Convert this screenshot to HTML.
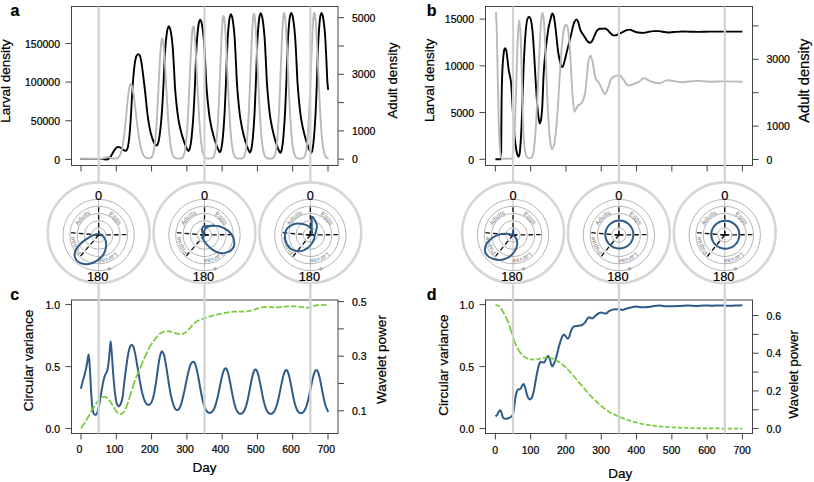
<!DOCTYPE html>
<html><head><meta charset="utf-8"><style>
html,body{margin:0;padding:0;background:#fff;}
svg{display:block;}
text{font-family:"Liberation Sans",sans-serif;}
text.k{stroke:#000;stroke-width:0.22px;}
</style></head><body>
<svg width="814" height="482" viewBox="0 0 814 482" font-family="Liberation Sans, sans-serif">
<rect width="814" height="482" fill="#fff"/>
<line x1="65.5" y1="159.4" x2="71.5" y2="159.4" stroke="#444" stroke-width="1"/>
<line x1="65.5" y1="120.73333333333335" x2="71.5" y2="120.73333333333335" stroke="#444" stroke-width="1"/>
<line x1="65.5" y1="82.06666666666668" x2="71.5" y2="82.06666666666668" stroke="#444" stroke-width="1"/>
<line x1="65.5" y1="43.400000000000006" x2="71.5" y2="43.400000000000006" stroke="#444" stroke-width="1"/>
<text class="k" x="60.0" y="163.6" font-size="10.5" text-anchor="end" font-weight="normal" fill="#000">0</text>
<text class="k" x="60.0" y="124.93333333333335" font-size="10.5" text-anchor="end" font-weight="normal" fill="#000">50000</text>
<text class="k" x="60.0" y="86.26666666666668" font-size="10.5" text-anchor="end" font-weight="normal" fill="#000">100000</text>
<text class="k" x="60.0" y="47.60000000000001" font-size="10.5" text-anchor="end" font-weight="normal" fill="#000">150000</text>
<line x1="338.0" y1="159.2" x2="344.0" y2="159.2" stroke="#444" stroke-width="1"/>
<line x1="338.0" y1="130.89999999999998" x2="344.0" y2="130.89999999999998" stroke="#444" stroke-width="1"/>
<line x1="338.0" y1="102.6" x2="344.0" y2="102.6" stroke="#444" stroke-width="1"/>
<line x1="338.0" y1="74.3" x2="344.0" y2="74.3" stroke="#444" stroke-width="1"/>
<line x1="338.0" y1="46.0" x2="344.0" y2="46.0" stroke="#444" stroke-width="1"/>
<line x1="338.0" y1="17.69999999999999" x2="344.0" y2="17.69999999999999" stroke="#444" stroke-width="1"/>
<text class="k" x="352.0" y="163.2" font-size="10.5" text-anchor="start" font-weight="normal" fill="#000">0</text>
<text class="k" x="352.0" y="134.89999999999998" font-size="10.5" text-anchor="start" font-weight="normal" fill="#000">1000</text>
<text class="k" x="352.0" y="78.3" font-size="10.5" text-anchor="start" font-weight="normal" fill="#000">3000</text>
<text class="k" x="352.0" y="21.69999999999999" font-size="10.5" text-anchor="start" font-weight="normal" fill="#000">5000</text>
<line x1="81.0" y1="165.5" x2="81.0" y2="171.5" stroke="#444" stroke-width="1"/>
<line x1="116.286" y1="165.5" x2="116.286" y2="171.5" stroke="#444" stroke-width="1"/>
<line x1="151.572" y1="165.5" x2="151.572" y2="171.5" stroke="#444" stroke-width="1"/>
<line x1="186.858" y1="165.5" x2="186.858" y2="171.5" stroke="#444" stroke-width="1"/>
<line x1="222.144" y1="165.5" x2="222.144" y2="171.5" stroke="#444" stroke-width="1"/>
<line x1="257.43" y1="165.5" x2="257.43" y2="171.5" stroke="#444" stroke-width="1"/>
<line x1="292.716" y1="165.5" x2="292.716" y2="171.5" stroke="#444" stroke-width="1"/>
<line x1="328.002" y1="165.5" x2="328.002" y2="171.5" stroke="#444" stroke-width="1"/>
<path d="M80.40,158.90 C86.93,158.90 93.47,158.90 100.00,158.90 C101.33,158.90 102.67,159.08 104.00,159.20 C105.00,159.29 106.00,159.50 107.00,159.50 C108.00,159.50 109.00,158.45 110.00,157.50 C111.00,156.55 112.00,154.08 113.00,152.50 C114.00,150.92 115.00,148.76 116.00,148.00 C116.70,147.47 117.40,146.90 118.10,146.90 C118.90,146.90 119.70,147.26 120.50,147.60 C121.50,148.02 122.50,149.53 123.50,150.00 C124.40,150.42 125.30,150.90 126.20,150.90 C126.63,150.90 127.07,149.69 127.50,148.50 C128.00,147.12 128.50,143.81 129.00,140.00 C129.57,135.68 130.13,127.76 130.70,119.70 C131.27,111.64 131.83,98.13 132.40,89.80 C132.83,83.43 133.27,77.66 133.70,73.20 C134.13,68.74 134.57,64.39 135.00,62.00 C135.50,59.24 136.00,56.88 136.50,56.00 C137.07,55.00 137.63,54.10 138.20,54.10 C138.80,54.10 139.40,54.95 140.00,56.00 C140.50,56.88 141.00,60.15 141.50,63.00 C141.97,65.66 142.43,69.59 142.90,73.20 C143.57,78.35 144.23,84.04 144.90,89.80 C146.00,99.30 147.10,112.57 148.20,119.70 C149.13,125.75 150.07,130.59 151.00,134.00 C152.00,137.66 153.00,140.80 154.00,142.50 C154.83,143.92 155.67,145.60 156.50,145.60 C156.91,145.60 157.32,144.93 157.73,144.23 C158.25,143.33 158.77,140.60 159.29,137.70 C159.78,135.00 160.26,130.42 160.75,125.67 C161.15,121.66 161.56,116.83 161.97,111.07 C162.42,104.79 162.87,96.41 163.31,87.88 C163.84,77.93 164.36,62.42 164.88,54.39 C165.33,47.50 165.77,41.94 166.22,38.07 C166.67,34.19 167.11,30.45 167.56,29.05 C168.01,27.64 168.45,26.30 168.90,26.30 C169.32,26.30 169.73,27.54 170.15,28.72 C170.57,29.91 170.99,32.65 171.40,35.46 C171.82,38.26 172.24,41.91 172.65,46.68 C173.07,51.45 173.49,59.27 173.91,66.43 C174.29,73.00 174.67,82.59 175.05,87.98 C175.54,94.83 176.03,99.63 176.51,104.14 C177.21,110.58 177.90,116.50 178.60,120.48 C179.75,127.03 180.89,131.36 182.04,135.38 C183.22,139.52 184.41,142.94 185.59,145.79 C186.21,147.30 186.84,148.67 187.47,149.74 C187.74,150.22 188.02,151.00 188.30,151.00 C188.69,151.00 189.09,150.26 189.48,149.49 C189.98,148.50 190.48,145.50 190.98,142.30 C191.44,139.33 191.91,134.28 192.37,129.05 C192.77,124.63 193.16,119.31 193.55,112.97 C193.98,106.06 194.41,96.82 194.84,87.43 C195.34,76.47 195.84,59.39 196.34,50.53 C196.77,42.95 197.20,36.83 197.63,32.56 C198.06,28.30 198.48,24.17 198.91,22.63 C199.34,21.08 199.77,19.60 200.20,19.60 C200.62,19.60 201.04,20.91 201.46,22.18 C201.88,23.44 202.30,26.35 202.72,29.34 C203.14,32.32 203.55,36.20 203.97,41.27 C204.39,46.34 204.81,54.65 205.23,62.27 C205.62,69.26 206.00,79.46 206.39,85.18 C206.87,92.47 207.36,97.57 207.85,102.37 C208.55,109.22 209.25,115.52 209.95,119.74 C211.10,126.71 212.26,131.32 213.41,135.59 C214.60,139.99 215.79,143.63 216.97,146.66 C217.60,148.27 218.23,149.72 218.86,150.86 C219.14,151.37 219.42,152.20 219.70,152.20 C220.07,152.20 220.44,151.43 220.81,150.61 C221.28,149.57 221.75,146.42 222.22,143.06 C222.66,139.94 223.10,134.64 223.53,129.15 C223.90,124.50 224.27,118.92 224.64,112.26 C225.05,105.00 225.45,95.30 225.85,85.44 C226.33,73.93 226.80,55.98 227.27,46.69 C227.67,38.72 228.07,32.29 228.48,27.81 C228.88,23.33 229.29,19.00 229.69,17.38 C230.09,15.75 230.50,14.20 230.90,14.20 C231.31,14.20 231.71,15.57 232.12,16.89 C232.53,18.21 232.93,21.24 233.34,24.36 C233.75,27.47 234.15,31.51 234.56,36.80 C234.96,42.09 235.37,50.76 235.78,58.71 C236.15,65.99 236.52,76.63 236.90,82.60 C237.37,90.20 237.84,95.52 238.32,100.53 C239.00,107.67 239.67,114.24 240.35,118.65 C241.47,125.91 242.59,130.72 243.70,135.18 C244.85,139.77 246.01,143.56 247.16,146.73 C247.77,148.40 248.38,149.91 248.99,151.11 C249.26,151.64 249.53,152.50 249.80,152.50 C250.16,152.50 250.52,151.72 250.88,150.90 C251.34,149.85 251.80,146.67 252.25,143.28 C252.68,140.13 253.11,134.79 253.53,129.25 C253.89,124.56 254.25,118.93 254.61,112.21 C255.00,104.89 255.40,95.11 255.79,85.15 C256.25,73.54 256.71,55.45 257.16,46.07 C257.56,38.03 257.95,31.55 258.34,27.03 C258.74,22.51 259.13,18.15 259.52,16.51 C259.91,14.87 260.31,13.30 260.70,13.30 C261.12,13.30 261.54,14.68 261.96,16.01 C262.38,17.34 262.80,20.41 263.22,23.55 C263.64,26.69 264.05,30.77 264.47,36.11 C264.89,41.46 265.31,50.21 265.73,58.23 C266.12,65.58 266.50,76.32 266.89,82.35 C267.37,90.01 267.86,95.39 268.35,100.44 C269.05,107.65 269.75,114.28 270.45,118.73 C271.60,126.06 272.76,130.91 273.91,135.41 C275.10,140.05 276.29,143.88 277.47,147.07 C278.10,148.76 278.73,150.29 279.36,151.49 C279.64,152.03 279.92,152.90 280.20,152.90 C280.56,152.90 280.93,152.12 281.29,151.29 C281.75,150.23 282.22,147.04 282.68,143.63 C283.11,140.46 283.54,135.09 283.97,129.52 C284.33,124.80 284.69,119.14 285.06,112.38 C285.45,105.01 285.85,95.18 286.25,85.17 C286.71,73.49 287.17,55.29 287.63,45.86 C288.03,37.78 288.43,31.25 288.82,26.71 C289.22,22.16 289.61,17.77 290.01,16.13 C290.41,14.48 290.80,12.90 291.20,12.90 C291.63,12.90 292.05,14.29 292.48,15.62 C292.90,16.96 293.33,20.03 293.75,23.18 C294.18,26.33 294.61,30.42 295.03,35.78 C295.46,41.14 295.88,49.91 296.31,57.95 C296.70,65.33 297.09,76.10 297.48,82.14 C297.98,89.83 298.47,95.22 298.97,100.29 C299.68,107.52 300.39,114.17 301.10,118.63 C302.27,125.99 303.44,130.85 304.61,135.36 C305.82,140.01 307.03,143.85 308.23,147.05 C308.87,148.75 309.51,150.28 310.15,151.49 C310.43,152.03 310.72,152.90 311.00,152.90 C311.35,152.90 311.69,152.12 312.04,151.29 C312.48,150.23 312.92,147.04 313.36,143.63 C313.77,140.46 314.18,135.09 314.59,129.52 C314.94,124.80 315.29,119.14 315.64,112.38 C316.01,105.01 316.39,95.18 316.77,85.17 C317.21,73.49 317.65,55.29 318.09,45.86 C318.47,37.78 318.85,31.25 319.23,26.71 C319.61,22.16 319.99,17.77 320.36,16.13 C320.74,14.48 321.12,12.90 321.50,12.90 C321.90,12.90 322.30,14.29 322.70,15.62 C323.10,16.96 323.50,20.03 323.90,23.18 C324.30,26.33 324.70,30.42 325.10,35.78 C325.50,41.14 325.90,49.91 326.30,57.95 C326.67,65.33 327.03,77.31 327.40,82.14 C327.67,85.66 327.93,87.31 328.20,89.90" fill="none" stroke="#000" stroke-width="1.9" stroke-linejoin="round"/>
<path d="M80.40,158.70 C80.48,158.70 80.57,158.70 80.65,158.70 C80.73,158.70 80.82,158.70 80.90,158.70 C80.98,158.70 81.07,158.70 81.15,158.70 C81.23,158.70 81.32,158.70 81.40,158.70 C81.48,158.70 81.57,158.70 81.65,158.70 C81.73,158.70 81.82,158.70 81.90,158.70 C81.98,158.70 82.07,158.70 82.15,158.70 C82.23,158.70 82.32,158.70 82.40,158.70 C82.48,158.70 82.57,158.70 82.65,158.70 C82.73,158.70 82.82,158.70 82.90,158.70 C82.98,158.70 83.07,158.70 83.15,158.70 C83.23,158.70 83.32,158.70 83.40,158.70 C83.48,158.70 83.57,158.70 83.65,158.70 C83.73,158.70 83.82,158.70 83.90,158.70 C83.98,158.70 84.07,158.70 84.15,158.70 C84.23,158.70 84.32,158.70 84.40,158.70 C84.48,158.70 84.57,158.70 84.65,158.70 C84.73,158.70 84.82,158.70 84.90,158.70 C84.98,158.70 85.07,158.70 85.15,158.70 C85.23,158.70 85.32,158.70 85.40,158.70 C85.48,158.70 85.57,158.70 85.65,158.70 C85.73,158.70 85.82,158.70 85.90,158.70 C85.98,158.70 86.07,158.70 86.15,158.70 C86.23,158.70 86.32,158.70 86.40,158.70 C86.48,158.70 86.57,158.70 86.65,158.70 C86.73,158.70 86.82,158.70 86.90,158.70 C86.98,158.70 87.07,158.70 87.15,158.70 C87.23,158.70 87.32,158.70 87.40,158.70 C87.48,158.70 87.57,158.70 87.65,158.70 C87.73,158.70 87.82,158.70 87.90,158.70 C87.98,158.70 88.07,158.70 88.15,158.70 C88.23,158.70 88.32,158.70 88.40,158.70 C88.48,158.70 88.57,158.70 88.65,158.70 C88.73,158.70 88.82,158.70 88.90,158.70 C88.98,158.70 89.07,158.70 89.15,158.70 C89.23,158.70 89.32,158.70 89.40,158.70 C89.48,158.70 89.57,158.70 89.65,158.70 C89.73,158.70 89.82,158.70 89.90,158.70 C89.98,158.70 90.07,158.70 90.15,158.70 C90.23,158.70 90.32,158.70 90.40,158.70 C90.48,158.70 90.57,158.70 90.65,158.70 C90.73,158.70 90.82,158.70 90.90,158.70 C90.98,158.70 91.07,158.70 91.15,158.70 C91.23,158.70 91.32,158.70 91.40,158.70 C91.48,158.70 91.57,158.70 91.65,158.70 C91.73,158.70 91.82,158.70 91.90,158.70 C91.98,158.70 92.07,158.70 92.15,158.70 C92.23,158.70 92.32,158.70 92.40,158.70 C92.48,158.70 92.57,158.70 92.65,158.70 C92.73,158.70 92.82,158.70 92.90,158.70 C92.98,158.70 93.07,158.70 93.15,158.70 C93.23,158.70 93.32,158.70 93.40,158.70 C93.48,158.70 93.57,158.70 93.65,158.70 C93.73,158.70 93.82,158.70 93.90,158.70 C93.98,158.70 94.07,158.70 94.15,158.70 C94.23,158.70 94.32,158.70 94.40,158.70 C94.48,158.70 94.57,158.70 94.65,158.70 C94.73,158.70 94.82,158.70 94.90,158.70 C94.98,158.70 95.07,158.70 95.15,158.70 C95.23,158.70 95.32,158.70 95.40,158.70 C95.48,158.70 95.57,158.70 95.65,158.70 C95.73,158.70 95.82,158.70 95.90,158.70 C95.98,158.70 96.07,158.70 96.15,158.70 C96.23,158.70 96.32,158.70 96.40,158.70 C96.48,158.70 96.57,158.70 96.65,158.70 C96.73,158.70 96.82,158.70 96.90,158.70 C96.98,158.70 97.07,158.70 97.15,158.70 C97.23,158.70 97.32,158.70 97.40,158.70 C97.48,158.70 97.57,158.70 97.65,158.70 C97.73,158.70 97.82,158.70 97.90,158.70 C97.98,158.70 98.07,158.70 98.15,158.70 C98.23,158.70 98.32,158.70 98.40,158.70 C98.48,158.70 98.57,158.70 98.65,158.70 C98.73,158.70 98.82,158.70 98.90,158.70 C98.98,158.69 99.07,158.69 99.15,158.69 C99.23,158.69 99.32,158.69 99.40,158.69 C99.48,158.69 99.57,158.69 99.65,158.69 C99.73,158.69 99.82,158.68 99.90,158.68 C99.98,158.68 100.07,158.68 100.15,158.68 C100.23,158.68 100.32,158.67 100.40,158.67 C100.48,158.67 100.57,158.66 100.65,158.66 C100.73,158.66 100.82,158.65 100.90,158.65 C100.98,158.64 101.07,158.64 101.15,158.63 C101.23,158.63 101.32,158.62 101.40,158.61 C101.48,158.61 101.57,158.60 101.65,158.59 C101.73,158.58 101.82,158.57 101.90,158.56 C101.98,158.55 102.07,158.54 102.15,158.53 C102.23,158.52 102.32,158.50 102.40,158.49 C102.48,158.47 102.57,158.46 102.65,158.44 C102.73,158.42 102.82,158.41 102.90,158.39 C102.98,158.37 103.07,158.35 103.15,158.33 C103.23,158.30 103.32,158.28 103.40,158.26 C103.48,158.23 103.57,158.21 103.65,158.18 C103.73,158.15 103.82,158.13 103.90,158.10 C103.98,158.07 104.07,158.04 104.15,158.01 C104.23,157.98 104.32,157.94 104.40,157.91 C104.48,157.88 104.57,157.85 104.65,157.81 C104.73,157.78 104.82,157.74 104.90,157.71 C104.98,157.68 105.07,157.64 105.15,157.61 C105.23,157.57 105.32,157.54 105.40,157.51 C105.48,157.47 105.57,157.44 105.65,157.41 C105.73,157.38 105.82,157.34 105.90,157.31 C105.98,157.29 106.07,157.26 106.15,157.23 C106.23,157.20 106.32,157.18 106.40,157.16 C106.48,157.13 106.57,157.11 106.65,157.10 C106.73,157.08 106.82,157.06 106.90,157.05 C106.98,157.04 107.07,157.02 107.15,157.02 C107.23,157.01 107.32,157.00 107.40,157.00 C107.48,157.00 107.57,157.00 107.65,157.00 C107.73,157.00 107.82,157.01 107.90,157.02 C107.98,157.03 108.07,157.04 108.15,157.06 C108.23,157.07 108.32,157.09 108.40,157.11 C108.48,157.13 108.57,157.15 108.65,157.17 C108.73,157.19 108.82,157.22 108.90,157.25 C108.98,157.27 109.07,157.30 109.15,157.33 C109.23,157.36 109.32,157.39 109.40,157.43 C109.48,157.46 109.57,157.49 109.65,157.53 C109.73,157.56 109.82,157.59 109.90,157.63 C109.98,157.66 110.07,157.70 110.15,157.73 C110.23,157.76 110.32,157.80 110.40,157.83 C110.48,157.86 110.57,157.90 110.65,157.93 C110.73,157.96 110.82,157.99 110.90,158.02 C110.98,158.05 111.07,158.08 111.15,158.11 C111.23,158.14 111.32,158.17 111.40,158.19 C111.48,158.22 111.57,158.24 111.65,158.27 C111.73,158.29 111.82,158.31 111.90,158.33 C111.98,158.35 112.07,158.37 112.15,158.39 C112.23,158.41 112.32,158.43 112.40,158.44 C112.48,158.46 112.57,158.47 112.65,158.49 C112.73,158.50 112.82,158.51 112.90,158.52 C112.98,158.53 113.07,158.54 113.15,158.55 C113.23,158.56 113.32,158.57 113.40,158.57 C113.48,158.58 113.57,158.58 113.65,158.59 C113.73,158.59 113.82,158.60 113.90,158.60 C113.98,158.60 114.07,158.60 114.15,158.61 C114.23,158.61 114.32,158.61 114.40,158.61 C114.48,158.61 114.57,158.60 114.65,158.60 C114.73,158.60 114.82,158.60 114.90,158.59 C114.98,158.59 115.07,158.58 115.15,158.58 C115.23,158.57 115.32,158.56 115.40,158.56 C115.48,158.55 115.57,158.54 115.65,158.53 C115.73,158.52 115.82,158.51 115.90,158.49 C115.98,158.48 116.07,158.47 116.15,158.45 C116.23,158.44 116.32,158.42 116.40,158.40 C116.48,158.38 116.57,158.36 116.65,158.34 C116.73,158.32 116.82,158.29 116.90,158.27 C116.98,158.24 117.07,158.21 117.15,158.18 C117.23,158.15 117.32,158.11 117.40,158.07 C117.48,158.04 117.57,158.00 117.65,157.95 C117.73,157.91 117.82,157.86 117.90,157.81 C117.98,157.76 118.07,157.70 118.15,157.64 C118.23,157.58 118.32,157.52 118.40,157.45 C118.48,157.38 118.57,157.31 118.65,157.23 C118.73,157.15 118.82,157.06 118.90,156.97 C118.98,156.88 119.07,156.78 119.15,156.67 C119.23,156.57 119.32,156.46 119.40,156.34 C119.48,156.22 119.57,156.09 119.65,155.95 C119.73,155.81 119.82,155.67 119.90,155.51 C119.98,155.36 120.07,155.19 120.15,155.02 C120.23,154.84 120.32,154.66 120.40,154.46 C120.48,154.26 120.57,154.05 120.65,153.83 C120.73,153.61 120.82,153.38 120.90,153.14 C120.98,152.89 121.07,152.63 121.15,152.36 C121.23,152.09 121.32,151.80 121.40,151.50 C121.48,151.19 121.57,150.88 121.65,150.54 C121.73,150.21 121.82,149.86 121.90,149.50 C121.98,149.13 122.07,148.75 122.15,148.35 C122.23,147.96 122.32,147.54 122.40,147.10 C122.48,146.67 122.57,146.22 122.65,145.75 C122.73,145.28 122.82,144.79 122.90,144.29 C122.98,143.78 123.07,143.25 123.15,142.71 C123.23,142.17 123.32,141.60 123.40,141.02 C123.48,140.44 123.57,139.84 123.65,139.22 C123.73,138.60 123.82,137.96 123.90,137.31 C123.98,136.65 124.07,135.98 124.15,135.29 C124.23,134.60 124.32,133.89 124.40,133.16 C124.48,132.44 124.57,131.69 124.65,130.94 C124.73,130.18 124.82,129.41 124.90,128.62 C124.98,127.84 125.07,127.03 125.15,126.22 C125.23,125.41 125.32,124.59 125.40,123.75 C125.48,122.92 125.57,122.07 125.65,121.22 C125.73,120.37 125.82,119.50 125.90,118.64 C125.98,117.77 126.07,116.90 126.15,116.02 C126.23,115.15 126.32,114.27 126.40,113.39 C126.48,112.52 126.57,111.63 126.65,110.76 C126.73,109.89 126.82,109.01 126.90,108.15 C126.98,107.28 127.07,106.42 127.15,105.57 C127.23,104.72 127.32,103.88 127.40,103.05 C127.48,102.23 127.57,101.41 127.65,100.61 C127.73,99.82 127.82,99.03 127.90,98.27 C127.98,97.51 128.07,96.76 128.15,96.05 C128.23,95.33 128.32,94.63 128.40,93.96 C128.48,93.29 128.57,92.64 128.65,92.02 C128.73,91.41 128.82,90.82 128.90,90.27 C128.98,89.71 129.07,89.18 129.15,88.70 C129.23,88.21 129.32,87.75 129.40,87.34 C129.48,86.92 129.57,86.53 129.65,86.19 C129.73,85.86 129.82,85.54 129.90,85.28 C129.98,85.02 130.07,84.78 130.15,84.61 C130.23,84.43 130.32,84.26 130.40,84.18 C130.48,84.10 130.57,84.01 130.65,84.01 C130.73,84.01 130.82,84.03 130.90,84.06 C130.98,84.08 131.07,84.18 131.15,84.28 C131.23,84.37 131.32,84.52 131.40,84.67 C131.48,84.83 131.57,85.02 131.65,85.24 C131.73,85.45 131.82,85.70 131.90,85.96 C131.98,86.23 132.07,86.53 132.15,86.85 C132.23,87.17 132.32,87.52 132.40,87.89 C132.48,88.26 132.57,88.66 132.65,89.07 C132.73,89.49 132.82,89.93 132.90,90.39 C132.98,90.86 133.07,91.34 133.15,91.85 C133.23,92.35 133.32,92.88 133.40,93.42 C133.48,93.96 133.57,94.53 133.65,95.10 C133.73,95.68 133.82,96.28 133.90,96.89 C133.98,97.49 134.07,98.12 134.15,98.76 C134.23,99.39 134.32,100.05 134.40,100.71 C134.48,101.37 134.57,102.04 134.65,102.72 C134.73,103.40 134.82,104.09 134.90,104.79 C134.98,105.49 135.07,106.19 135.15,106.90 C135.23,107.61 135.32,108.33 135.40,109.05 C135.48,109.77 135.57,110.49 135.65,111.22 C135.73,111.94 135.82,112.67 135.90,113.39 C135.98,114.12 136.07,114.84 136.15,115.57 C136.23,116.29 136.32,117.02 136.40,117.74 C136.48,118.45 136.57,119.17 136.65,119.88 C136.73,120.59 136.82,121.30 136.90,122.00 C136.98,122.70 137.07,123.40 137.15,124.09 C137.23,124.78 137.32,125.46 137.40,126.13 C137.48,126.80 137.57,127.47 137.65,128.12 C137.73,128.78 137.82,129.42 137.90,130.06 C137.98,130.69 138.07,131.32 138.15,131.93 C138.23,132.55 138.32,133.15 138.40,133.74 C138.48,134.34 138.57,134.92 138.65,135.49 C138.73,136.05 138.82,136.61 138.90,137.16 C138.98,137.70 139.07,138.23 139.15,138.75 C139.23,139.27 139.32,139.78 139.40,140.27 C139.48,140.77 139.57,141.25 139.65,141.72 C139.73,142.18 139.82,142.64 139.90,143.08 C139.98,143.52 140.07,143.96 140.15,144.37 C140.23,144.79 140.32,145.19 140.40,145.59 C140.48,145.98 140.57,146.36 140.65,146.73 C140.73,147.09 140.82,147.45 140.90,147.79 C140.98,148.13 141.07,148.46 141.15,148.78 C141.23,149.10 141.32,149.41 141.40,149.71 C141.48,150.00 141.57,150.29 141.65,150.56 C141.73,150.84 141.82,151.10 141.90,151.36 C141.98,151.61 142.07,151.85 142.15,152.09 C142.23,152.32 142.32,152.54 142.40,152.76 C142.48,152.97 142.57,153.18 142.65,153.37 C142.73,153.57 142.82,153.76 142.90,153.94 C142.98,154.11 143.07,154.29 143.15,154.45 C143.23,154.61 143.32,154.77 143.40,154.91 C143.48,155.06 143.57,155.20 143.65,155.34 C143.73,155.47 143.82,155.60 143.90,155.72 C143.98,155.84 144.07,155.96 144.15,156.07 C144.23,156.17 144.32,156.28 144.40,156.38 C144.48,156.47 144.57,156.57 144.65,156.65 C144.73,156.74 144.82,156.83 144.90,156.90 C144.98,156.98 145.07,157.06 145.15,157.13 C145.23,157.20 145.32,157.26 145.40,157.32 C145.48,157.39 145.57,157.44 145.65,157.50 C145.73,157.55 145.82,157.61 145.90,157.65 C145.98,157.70 146.07,157.75 146.15,157.79 C146.23,157.83 146.32,157.87 146.40,157.91 C146.48,157.95 146.57,157.98 146.65,158.01 C146.73,158.04 146.82,158.07 146.90,158.10 C146.98,158.13 147.07,158.16 147.15,158.18 C147.23,158.20 147.32,158.22 147.40,158.24 C147.48,158.26 147.57,158.28 147.65,158.30 C147.73,158.31 147.82,158.33 147.90,158.34 C147.98,158.35 148.07,158.36 148.15,158.37 C148.23,158.38 148.32,158.39 148.40,158.39 C148.48,158.40 148.57,158.41 148.65,158.41 C148.73,158.41 148.82,158.41 148.90,158.41 C148.98,158.41 149.07,158.40 149.15,158.39 C149.23,158.39 149.32,158.38 149.40,158.37 C149.48,158.36 149.57,158.34 149.65,158.33 C149.73,158.31 149.82,158.29 149.90,158.27 C149.98,158.24 150.07,158.22 150.15,158.19 C150.23,158.16 150.32,158.12 150.40,158.08 C150.48,158.05 150.57,158.00 150.65,157.95 C150.73,157.90 150.82,157.85 150.90,157.79 C150.98,157.73 151.07,157.66 151.15,157.58 C151.23,157.51 151.32,157.43 151.40,157.34 C151.48,157.25 151.57,157.15 151.65,157.04 C151.73,156.93 151.82,156.81 151.90,156.67 C151.98,156.54 152.07,156.40 152.15,156.24 C152.23,156.09 152.32,155.91 152.40,155.73 C152.48,155.54 152.57,155.34 152.65,155.12 C152.73,154.91 152.82,154.67 152.90,154.42 C152.98,154.16 153.07,153.88 153.15,153.59 C153.23,153.29 153.32,152.97 153.40,152.63 C153.48,152.29 153.57,151.92 153.65,151.53 C153.73,151.13 153.82,150.71 153.90,150.26 C153.98,149.81 154.07,149.33 154.15,148.82 C154.23,148.31 154.32,147.77 154.40,147.19 C154.48,146.62 154.57,146.00 154.65,145.36 C154.73,144.71 154.82,144.02 154.90,143.30 C154.98,142.58 155.07,141.82 155.15,141.02 C155.23,140.22 155.32,139.37 155.40,138.49 C155.48,137.61 155.57,136.68 155.65,135.72 C155.73,134.75 155.82,133.73 155.90,132.68 C155.98,131.63 156.07,130.53 156.15,129.39 C156.23,128.25 156.32,127.07 156.40,125.84 C156.48,124.62 156.57,123.35 156.65,122.04 C156.73,120.74 156.82,119.38 156.90,118.00 C156.98,116.61 157.07,115.18 157.15,113.73 C157.23,112.27 157.32,110.77 157.40,109.24 C157.48,107.72 157.57,106.16 157.65,104.58 C157.73,102.99 157.82,101.38 157.90,99.75 C157.98,98.13 158.07,96.47 158.15,94.81 C158.23,93.15 158.32,91.47 158.40,89.78 C158.48,88.10 158.57,86.41 158.65,84.72 C158.73,83.04 158.82,81.34 158.90,79.67 C158.98,77.99 159.07,76.32 159.15,74.68 C159.23,73.03 159.32,71.40 159.40,69.80 C159.48,68.20 159.57,66.62 159.65,65.09 C159.73,63.56 159.82,62.05 159.90,60.61 C159.98,59.16 160.07,57.75 160.15,56.41 C160.23,55.06 160.32,53.76 160.40,52.54 C160.48,51.31 160.57,50.13 160.65,49.05 C160.73,47.96 160.82,46.93 160.90,45.99 C160.98,45.06 161.07,44.18 161.15,43.41 C161.23,42.64 161.32,41.92 161.40,41.33 C161.48,40.75 161.57,40.19 161.65,39.80 C161.73,39.40 161.82,39.01 161.90,38.82 C161.98,38.63 162.07,38.41 162.15,38.41 C162.23,38.41 162.32,38.47 162.40,38.55 C162.48,38.63 162.57,38.90 162.65,39.16 C162.73,39.42 162.82,39.81 162.90,40.23 C162.98,40.65 163.07,41.18 163.15,41.75 C163.23,42.31 163.32,42.98 163.40,43.69 C163.48,44.40 163.57,45.21 163.65,46.05 C163.73,46.89 163.82,47.82 163.90,48.79 C163.98,49.76 164.07,50.80 164.15,51.88 C164.23,52.96 164.32,54.11 164.40,55.29 C164.48,56.47 164.57,57.71 164.65,58.98 C164.73,60.24 164.82,61.56 164.90,62.91 C164.98,64.25 165.07,65.64 165.15,67.04 C165.23,68.45 165.32,69.89 165.40,71.34 C165.48,72.80 165.57,74.28 165.65,75.77 C165.73,77.25 165.82,78.76 165.90,80.27 C165.98,81.78 166.07,83.30 166.15,84.82 C166.23,86.34 166.32,87.87 166.40,89.38 C166.48,90.89 166.57,92.41 166.65,93.91 C166.73,95.41 166.82,96.90 166.90,98.38 C166.98,99.85 167.07,101.32 167.15,102.76 C167.23,104.20 167.32,105.63 167.40,107.02 C167.48,108.42 167.57,109.80 167.65,111.15 C167.73,112.50 167.82,113.82 167.90,115.12 C167.98,116.41 168.07,117.68 168.15,118.91 C168.23,120.14 168.32,121.34 168.40,122.51 C168.48,123.68 168.57,124.82 168.65,125.92 C168.73,127.02 168.82,128.09 168.90,129.12 C168.98,130.15 169.07,131.15 169.15,132.11 C169.23,133.07 169.32,134.00 169.40,134.89 C169.48,135.78 169.57,136.64 169.65,137.47 C169.73,138.29 169.82,139.08 169.90,139.84 C169.98,140.59 170.07,141.32 170.15,142.01 C170.23,142.70 170.32,143.36 170.40,143.99 C170.48,144.61 170.57,145.21 170.65,145.78 C170.73,146.35 170.82,146.89 170.90,147.40 C170.98,147.91 171.07,148.40 171.15,148.86 C171.23,149.31 171.32,149.75 171.40,150.16 C171.48,150.57 171.57,150.95 171.65,151.32 C171.73,151.68 171.82,152.02 171.90,152.34 C171.98,152.66 172.07,152.97 172.15,153.25 C172.23,153.53 172.32,153.79 172.40,154.04 C172.48,154.29 172.57,154.52 172.65,154.74 C172.73,154.95 172.82,155.15 172.90,155.34 C172.98,155.53 173.07,155.70 173.15,155.86 C173.23,156.02 173.32,156.17 173.40,156.31 C173.48,156.45 173.57,156.58 173.65,156.70 C173.73,156.82 173.82,156.93 173.90,157.03 C173.98,157.13 174.07,157.23 174.15,157.31 C174.23,157.40 174.32,157.48 174.40,157.55 C174.48,157.62 174.57,157.69 174.65,157.75 C174.73,157.81 174.82,157.87 174.90,157.92 C174.98,157.97 175.07,158.02 175.15,158.06 C175.23,158.11 175.32,158.14 175.40,158.18 C175.48,158.22 175.57,158.25 175.65,158.28 C175.73,158.31 175.82,158.33 175.90,158.36 C175.98,158.38 176.07,158.40 176.15,158.42 C176.23,158.44 176.32,158.46 176.40,158.48 C176.48,158.49 176.57,158.51 176.65,158.52 C176.73,158.53 176.82,158.55 176.90,158.56 C176.98,158.57 177.07,158.58 177.15,158.58 C177.23,158.59 177.32,158.60 177.40,158.61 C177.48,158.61 177.57,158.62 177.65,158.62 C177.73,158.63 177.82,158.63 177.90,158.64 C177.98,158.64 178.07,158.64 178.15,158.64 C178.23,158.65 178.32,158.65 178.40,158.65 C178.48,158.65 178.57,158.65 178.65,158.65 C178.73,158.65 178.82,158.65 178.90,158.65 C178.98,158.65 179.07,158.65 179.15,158.64 C179.23,158.64 179.32,158.64 179.40,158.63 C179.48,158.63 179.57,158.62 179.65,158.62 C179.73,158.61 179.82,158.60 179.90,158.60 C179.98,158.59 180.07,158.58 180.15,158.57 C180.23,158.56 180.32,158.55 180.40,158.53 C180.48,158.52 180.57,158.50 180.65,158.48 C180.73,158.47 180.82,158.45 180.90,158.42 C180.98,158.40 181.07,158.37 181.15,158.35 C181.23,158.32 181.32,158.28 181.40,158.25 C181.48,158.21 181.57,158.17 181.65,158.13 C181.73,158.08 181.82,158.03 181.90,157.98 C181.98,157.92 182.07,157.86 182.15,157.79 C182.23,157.73 182.32,157.65 182.40,157.57 C182.48,157.48 182.57,157.39 182.65,157.29 C182.73,157.19 182.82,157.08 182.90,156.96 C182.98,156.84 183.07,156.70 183.15,156.55 C183.23,156.41 183.32,156.25 183.40,156.07 C183.48,155.90 183.57,155.71 183.65,155.50 C183.73,155.29 183.82,155.07 183.90,154.82 C183.98,154.58 184.07,154.31 184.15,154.02 C184.23,153.73 184.32,153.42 184.40,153.09 C184.48,152.75 184.57,152.39 184.65,152.00 C184.73,151.61 184.82,151.19 184.90,150.74 C184.98,150.30 185.07,149.81 185.15,149.30 C185.23,148.79 185.32,148.23 185.40,147.65 C185.48,147.06 185.57,146.44 185.65,145.77 C185.73,145.11 185.82,144.41 185.90,143.66 C185.98,142.91 186.07,142.12 186.15,141.29 C186.23,140.45 186.32,139.57 186.40,138.64 C186.48,137.72 186.57,136.74 186.65,135.72 C186.73,134.70 186.82,133.62 186.90,132.50 C186.98,131.38 187.07,130.20 187.15,128.98 C187.23,127.76 187.32,126.48 187.40,125.16 C187.48,123.84 187.57,122.46 187.65,121.04 C187.73,119.62 187.82,118.15 187.90,116.63 C187.98,115.12 188.07,113.55 188.15,111.95 C188.23,110.34 188.32,108.69 188.40,107.00 C188.48,105.32 188.57,103.58 188.65,101.83 C188.73,100.07 188.82,98.27 188.90,96.45 C188.98,94.63 189.07,92.78 189.15,90.92 C189.23,89.05 189.32,87.16 189.40,85.26 C189.48,83.37 189.57,81.45 189.65,79.54 C189.73,77.63 189.82,75.71 189.90,73.81 C189.98,71.91 190.07,70.00 190.15,68.13 C190.23,66.25 190.32,64.39 190.40,62.56 C190.48,60.73 190.57,58.92 190.65,57.16 C190.73,55.41 190.82,53.68 190.90,52.01 C190.98,50.35 191.07,48.72 191.15,47.17 C191.23,45.62 191.32,44.11 191.40,42.70 C191.48,41.29 191.57,39.92 191.65,38.67 C191.73,37.41 191.82,36.21 191.90,35.13 C191.98,34.04 192.07,33.02 192.15,32.13 C192.23,31.23 192.32,30.40 192.40,29.71 C192.48,29.03 192.57,28.39 192.65,27.92 C192.73,27.46 192.82,27.01 192.90,26.79 C192.98,26.56 193.07,26.31 193.15,26.31 C193.23,26.31 193.32,26.39 193.40,26.47 C193.48,26.56 193.57,26.88 193.65,27.18 C193.73,27.48 193.82,27.93 193.90,28.42 C193.98,28.90 194.07,29.51 194.15,30.17 C194.23,30.83 194.32,31.60 194.40,32.42 C194.48,33.24 194.57,34.17 194.65,35.14 C194.73,36.12 194.82,37.18 194.90,38.30 C194.98,39.41 195.07,40.61 195.15,41.86 C195.23,43.10 195.32,44.42 195.40,45.78 C195.48,47.13 195.57,48.55 195.65,50.01 C195.73,51.46 195.82,52.98 195.90,54.51 C195.98,56.05 196.07,57.64 196.15,59.24 C196.23,60.84 196.32,62.49 196.40,64.14 C196.48,65.80 196.57,67.48 196.65,69.17 C196.73,70.86 196.82,72.57 196.90,74.28 C196.98,75.99 197.07,77.71 197.15,79.42 C197.23,81.14 197.32,82.86 197.40,84.56 C197.48,86.26 197.57,87.97 197.65,89.65 C197.73,91.33 197.82,93.00 197.90,94.65 C197.98,96.30 198.07,97.93 198.15,99.53 C198.23,101.14 198.32,102.72 198.40,104.27 C198.48,105.82 198.57,107.34 198.65,108.83 C198.73,110.32 198.82,111.78 198.90,113.20 C198.98,114.62 199.07,116.01 199.15,117.35 C199.23,118.70 199.32,120.01 199.40,121.28 C199.48,122.55 199.57,123.79 199.65,124.98 C199.73,126.17 199.82,127.32 199.90,128.43 C199.98,129.54 200.07,130.61 200.15,131.64 C200.23,132.67 200.32,133.66 200.40,134.61 C200.48,135.56 200.57,136.47 200.65,137.34 C200.73,138.22 200.82,139.05 200.90,139.84 C200.98,140.64 201.07,141.40 201.15,142.12 C201.23,142.84 201.32,143.53 201.40,144.18 C201.48,144.83 201.57,145.45 201.65,146.04 C201.73,146.62 201.82,147.18 201.90,147.70 C201.98,148.23 202.07,148.72 202.15,149.19 C202.23,149.65 202.32,150.09 202.40,150.51 C202.48,150.92 202.57,151.31 202.65,151.67 C202.73,152.03 202.82,152.38 202.90,152.69 C202.98,153.01 203.07,153.31 203.15,153.59 C203.23,153.87 203.32,154.13 203.40,154.37 C203.48,154.61 203.57,154.84 203.65,155.05 C203.73,155.25 203.82,155.45 203.90,155.63 C203.98,155.81 204.07,155.98 204.15,156.13 C204.23,156.28 204.32,156.43 204.40,156.56 C204.48,156.69 204.57,156.81 204.65,156.92 C204.73,157.03 204.82,157.14 204.90,157.23 C204.98,157.32 205.07,157.41 205.15,157.49 C205.23,157.57 205.32,157.64 205.40,157.71 C205.48,157.77 205.57,157.83 205.65,157.89 C205.73,157.94 205.82,157.99 205.90,158.04 C205.98,158.09 206.07,158.13 206.15,158.17 C206.23,158.20 206.32,158.24 206.40,158.27 C206.48,158.30 206.57,158.33 206.65,158.35 C206.73,158.38 206.82,158.40 206.90,158.42 C206.98,158.44 207.07,158.46 207.15,158.48 C207.23,158.49 207.32,158.51 207.40,158.52 C207.48,158.54 207.57,158.55 207.65,158.56 C207.73,158.57 207.82,158.58 207.90,158.59 C207.98,158.60 208.07,158.60 208.15,158.61 C208.23,158.62 208.32,158.62 208.40,158.63 C208.48,158.63 208.57,158.63 208.65,158.64 C208.73,158.64 208.82,158.64 208.90,158.65 C208.98,158.65 209.07,158.65 209.15,158.65 C209.23,158.65 209.32,158.65 209.40,158.65 C209.48,158.65 209.57,158.65 209.65,158.65 C209.73,158.64 209.82,158.64 209.90,158.64 C209.98,158.63 210.07,158.63 210.15,158.63 C210.23,158.62 210.32,158.61 210.40,158.61 C210.48,158.60 210.57,158.59 210.65,158.58 C210.73,158.57 210.82,158.56 210.90,158.55 C210.98,158.53 211.07,158.52 211.15,158.50 C211.23,158.48 211.32,158.47 211.40,158.44 C211.48,158.42 211.57,158.40 211.65,158.37 C211.73,158.34 211.82,158.31 211.90,158.27 C211.98,158.24 212.07,158.20 212.15,158.16 C212.23,158.11 212.32,158.06 212.40,158.01 C212.48,157.95 212.57,157.89 212.65,157.82 C212.73,157.75 212.82,157.68 212.90,157.59 C212.98,157.51 213.07,157.41 213.15,157.31 C213.23,157.21 213.32,157.09 213.40,156.97 C213.48,156.84 213.57,156.70 213.65,156.55 C213.73,156.40 213.82,156.23 213.90,156.05 C213.98,155.87 214.07,155.66 214.15,155.44 C214.23,155.23 214.32,154.99 214.40,154.73 C214.48,154.47 214.57,154.18 214.65,153.88 C214.73,153.57 214.82,153.23 214.90,152.87 C214.98,152.51 215.07,152.12 215.15,151.70 C215.23,151.28 215.32,150.83 215.40,150.34 C215.48,149.85 215.57,149.33 215.65,148.76 C215.73,148.20 215.82,147.60 215.90,146.96 C215.98,146.32 216.07,145.63 216.15,144.90 C216.23,144.17 216.32,143.39 216.40,142.56 C216.48,141.74 216.57,140.86 216.65,139.94 C216.73,139.01 216.82,138.03 216.90,137.00 C216.98,135.97 217.07,134.88 217.15,133.74 C217.23,132.60 217.32,131.39 217.40,130.14 C217.48,128.89 217.57,127.57 217.65,126.20 C217.73,124.83 217.82,123.40 217.90,121.92 C217.98,120.43 218.07,118.89 218.15,117.29 C218.23,115.70 218.32,114.04 218.40,112.34 C218.48,110.64 218.57,108.88 218.65,107.07 C218.73,105.27 218.82,103.41 218.90,101.52 C218.98,99.63 219.07,97.68 219.15,95.71 C219.23,93.74 219.32,91.72 219.40,89.68 C219.48,87.65 219.57,85.57 219.65,83.49 C219.73,81.40 219.82,79.29 219.90,77.18 C219.98,75.06 220.07,72.93 220.15,70.81 C220.23,68.70 220.32,66.57 220.40,64.47 C220.48,62.36 220.57,60.26 220.65,58.20 C220.73,56.14 220.82,54.10 220.90,52.10 C220.98,50.11 221.07,48.14 221.15,46.24 C221.23,44.34 221.32,42.48 221.40,40.70 C221.48,38.92 221.57,37.18 221.65,35.55 C221.73,33.91 221.82,32.33 221.90,30.87 C221.98,29.40 222.07,28.00 222.15,26.72 C222.23,25.45 222.32,24.24 222.40,23.18 C222.48,22.12 222.57,21.12 222.65,20.29 C222.73,19.46 222.82,18.69 222.90,18.11 C222.98,17.52 223.07,16.97 223.15,16.65 C223.23,16.34 223.32,15.96 223.40,15.96 C223.48,15.96 223.57,15.98 223.65,16.01 C223.73,16.03 223.82,16.37 223.90,16.65 C223.98,16.93 224.07,17.39 224.15,17.87 C224.23,18.35 224.32,18.98 224.40,19.65 C224.48,20.32 224.57,21.12 224.65,21.98 C224.73,22.83 224.82,23.79 224.90,24.81 C224.98,25.83 225.07,26.95 225.15,28.12 C225.23,29.30 225.32,30.57 225.40,31.88 C225.48,33.19 225.57,34.59 225.65,36.03 C225.73,37.47 225.82,38.98 225.90,40.53 C225.98,42.08 226.07,43.70 226.15,45.34 C226.23,46.98 226.32,48.67 226.40,50.39 C226.48,52.11 226.57,53.87 226.65,55.65 C226.73,57.42 226.82,59.23 226.90,61.05 C226.98,62.86 227.07,64.70 227.15,66.54 C227.23,68.38 227.32,70.24 227.40,72.09 C227.48,73.94 227.57,75.79 227.65,77.63 C227.73,79.47 227.82,81.31 227.90,83.13 C227.98,84.95 228.07,86.76 228.15,88.55 C228.23,90.33 228.32,92.11 228.40,93.84 C228.48,95.58 228.57,97.30 228.65,98.99 C228.73,100.67 228.82,102.33 228.90,103.95 C228.98,105.56 229.07,107.15 229.15,108.70 C229.23,110.24 229.32,111.76 229.40,113.23 C229.48,114.69 229.57,116.13 229.65,117.51 C229.73,118.90 229.82,120.25 229.90,121.55 C229.98,122.85 230.07,124.11 230.15,125.33 C230.23,126.54 230.32,127.72 230.40,128.84 C230.48,129.97 230.57,131.06 230.65,132.10 C230.73,133.14 230.82,134.14 230.90,135.10 C230.98,136.05 231.07,136.97 231.15,137.84 C231.23,138.72 231.32,139.55 231.40,140.35 C231.48,141.14 231.57,141.90 231.65,142.61 C231.73,143.33 231.82,144.01 231.90,144.66 C231.98,145.30 232.07,145.92 232.15,146.50 C232.23,147.07 232.32,147.62 232.40,148.13 C232.48,148.65 232.57,149.14 232.65,149.59 C232.73,150.05 232.82,150.48 232.90,150.88 C232.98,151.28 233.07,151.66 233.15,152.01 C233.23,152.37 233.32,152.70 233.40,153.01 C233.48,153.31 233.57,153.60 233.65,153.87 C233.73,154.14 233.82,154.39 233.90,154.62 C233.98,154.85 234.07,155.07 234.15,155.27 C234.23,155.47 234.32,155.65 234.40,155.83 C234.48,156.00 234.57,156.16 234.65,156.30 C234.73,156.45 234.82,156.58 234.90,156.71 C234.98,156.83 235.07,156.95 235.15,157.05 C235.23,157.16 235.32,157.25 235.40,157.34 C235.48,157.43 235.57,157.51 235.65,157.59 C235.73,157.66 235.82,157.73 235.90,157.79 C235.98,157.85 236.07,157.91 236.15,157.96 C236.23,158.01 236.32,158.06 236.40,158.10 C236.48,158.14 236.57,158.18 236.65,158.21 C236.73,158.25 236.82,158.28 236.90,158.31 C236.98,158.34 237.07,158.36 237.15,158.39 C237.23,158.41 237.32,158.43 237.40,158.45 C237.48,158.47 237.57,158.49 237.65,158.50 C237.73,158.52 237.82,158.53 237.90,158.54 C237.98,158.55 238.07,158.56 238.15,158.57 C238.23,158.58 238.32,158.59 238.40,158.60 C238.48,158.61 238.57,158.61 238.65,158.62 C238.73,158.62 238.82,158.63 238.90,158.63 C238.98,158.64 239.07,158.64 239.15,158.64 C239.23,158.65 239.32,158.65 239.40,158.65 C239.48,158.65 239.57,158.65 239.65,158.65 C239.73,158.65 239.82,158.65 239.90,158.65 C239.98,158.65 240.07,158.65 240.15,158.64 C240.23,158.64 240.32,158.64 240.40,158.63 C240.48,158.63 240.57,158.62 240.65,158.62 C240.73,158.61 240.82,158.60 240.90,158.60 C240.98,158.59 241.07,158.58 241.15,158.57 C241.23,158.56 241.32,158.54 241.40,158.53 C241.48,158.51 241.57,158.50 241.65,158.48 C241.73,158.46 241.82,158.44 241.90,158.41 C241.98,158.39 242.07,158.36 242.15,158.33 C242.23,158.30 242.32,158.26 242.40,158.22 C242.48,158.18 242.57,158.14 242.65,158.09 C242.73,158.04 242.82,157.99 242.90,157.93 C242.98,157.87 243.07,157.80 243.15,157.72 C243.23,157.65 243.32,157.56 243.40,157.47 C243.48,157.38 243.57,157.27 243.65,157.16 C243.73,157.05 243.82,156.92 243.90,156.78 C243.98,156.65 244.07,156.49 244.15,156.33 C244.23,156.16 244.32,155.98 244.40,155.78 C244.48,155.58 244.57,155.36 244.65,155.12 C244.73,154.88 244.82,154.62 244.90,154.34 C244.98,154.06 245.07,153.75 245.15,153.42 C245.23,153.08 245.32,152.72 245.40,152.33 C245.48,151.94 245.57,151.52 245.65,151.07 C245.73,150.62 245.82,150.13 245.90,149.60 C245.98,149.08 246.07,148.52 246.15,147.91 C246.23,147.31 246.32,146.67 246.40,145.98 C246.48,145.30 246.57,144.56 246.65,143.78 C246.73,143.00 246.82,142.17 246.90,141.30 C246.98,140.42 247.07,139.49 247.15,138.51 C247.23,137.53 247.32,136.49 247.40,135.40 C247.48,134.31 247.57,133.15 247.65,131.95 C247.73,130.75 247.82,129.48 247.90,128.16 C247.98,126.84 248.07,125.46 248.15,124.03 C248.23,122.59 248.32,121.09 248.40,119.54 C248.48,117.99 248.57,116.38 248.65,114.71 C248.73,113.05 248.82,111.33 248.90,109.56 C248.98,107.79 249.07,105.96 249.15,104.09 C249.23,102.23 249.32,100.30 249.40,98.35 C249.48,96.39 249.57,94.39 249.65,92.36 C249.73,90.33 249.82,88.26 249.90,86.17 C249.98,84.08 250.07,81.96 250.15,79.83 C250.23,77.70 250.32,75.55 250.40,73.40 C250.48,71.25 250.57,69.08 250.65,66.94 C250.73,64.79 250.82,62.64 250.90,60.52 C250.98,58.40 251.07,56.29 251.15,54.23 C251.23,52.16 251.32,50.11 251.40,48.12 C251.48,46.14 251.57,44.18 251.65,42.29 C251.73,40.41 251.82,38.57 251.90,36.82 C251.98,35.07 252.07,33.37 252.15,31.78 C252.23,30.18 252.32,28.65 252.40,27.24 C252.48,25.83 252.57,24.48 252.65,23.27 C252.73,22.06 252.82,20.92 252.90,19.93 C252.98,18.95 253.07,18.03 253.15,17.28 C253.23,16.54 253.32,15.84 253.40,15.36 C253.48,14.87 253.57,14.39 253.65,14.19 C253.73,14.00 253.82,13.80 253.90,13.80 C253.98,13.80 254.07,13.95 254.15,14.10 C254.23,14.25 254.32,14.62 254.40,14.99 C254.48,15.36 254.57,15.89 254.65,16.45 C254.73,17.02 254.82,17.73 254.90,18.49 C254.98,19.24 255.07,20.12 255.15,21.05 C255.23,21.99 255.32,23.03 255.40,24.13 C255.48,25.23 255.57,26.43 255.65,27.68 C255.73,28.93 255.82,30.27 255.90,31.65 C255.98,33.04 256.07,34.51 256.15,36.01 C256.23,37.52 256.32,39.10 256.40,40.71 C256.48,42.32 256.57,44.00 256.65,45.69 C256.73,47.39 256.82,49.14 256.90,50.91 C256.98,52.68 257.07,54.49 257.15,56.31 C257.23,58.13 257.32,59.98 257.40,61.83 C257.48,63.69 257.57,65.56 257.65,67.44 C257.73,69.31 257.82,71.19 257.90,73.07 C257.98,74.94 258.07,76.82 258.15,78.68 C258.23,80.54 258.32,82.40 258.40,84.23 C258.48,86.07 258.57,87.89 258.65,89.68 C258.73,91.48 258.82,93.25 258.90,95.00 C258.98,96.74 259.07,98.46 259.15,100.14 C259.23,101.83 259.32,103.48 259.40,105.10 C259.48,106.71 259.57,108.29 259.65,109.83 C259.73,111.37 259.82,112.87 259.90,114.33 C259.98,115.78 260.07,117.21 260.15,118.58 C260.23,119.95 260.32,121.28 260.40,122.57 C260.48,123.85 260.57,125.10 260.65,126.30 C260.73,127.49 260.82,128.65 260.90,129.76 C260.98,130.87 261.07,131.94 261.15,132.96 C261.23,133.98 261.32,134.96 261.40,135.90 C261.48,136.83 261.57,137.73 261.65,138.58 C261.73,139.44 261.82,140.25 261.90,141.02 C261.98,141.80 262.07,142.54 262.15,143.23 C262.23,143.93 262.32,144.60 262.40,145.22 C262.48,145.85 262.57,146.44 262.65,147.00 C262.73,147.56 262.82,148.09 262.90,148.59 C262.98,149.09 263.07,149.56 263.15,150.00 C263.23,150.44 263.32,150.85 263.40,151.24 C263.48,151.63 263.57,151.99 263.65,152.33 C263.73,152.67 263.82,152.99 263.90,153.29 C263.98,153.58 264.07,153.86 264.15,154.12 C264.23,154.37 264.32,154.61 264.40,154.84 C264.48,155.06 264.57,155.26 264.65,155.45 C264.73,155.65 264.82,155.82 264.90,155.99 C264.98,156.15 265.07,156.30 265.15,156.44 C265.23,156.58 265.32,156.71 265.40,156.83 C265.48,156.94 265.57,157.05 265.65,157.15 C265.73,157.25 265.82,157.34 265.90,157.43 C265.98,157.51 266.07,157.59 266.15,157.66 C266.23,157.73 266.32,157.79 266.40,157.85 C266.48,157.91 266.57,157.96 266.65,158.01 C266.73,158.06 266.82,158.10 266.90,158.14 C266.98,158.18 267.07,158.22 267.15,158.25 C267.23,158.28 267.32,158.31 267.40,158.34 C267.48,158.36 267.57,158.39 267.65,158.41 C267.73,158.43 267.82,158.45 267.90,158.47 C267.98,158.49 268.07,158.50 268.15,158.51 C268.23,158.53 268.32,158.54 268.40,158.55 C268.48,158.56 268.57,158.57 268.65,158.58 C268.73,158.59 268.82,158.60 268.90,158.60 C268.98,158.61 269.07,158.62 269.15,158.62 C269.23,158.63 269.32,158.63 269.40,158.63 C269.48,158.64 269.57,158.64 269.65,158.64 C269.73,158.64 269.82,158.64 269.90,158.64 C269.98,158.64 270.07,158.64 270.15,158.64 C270.23,158.64 270.32,158.64 270.40,158.64 C270.48,158.64 270.57,158.63 270.65,158.63 C270.73,158.62 270.82,158.62 270.90,158.61 C270.98,158.61 271.07,158.60 271.15,158.59 C271.23,158.58 271.32,158.57 271.40,158.56 C271.48,158.55 271.57,158.53 271.65,158.52 C271.73,158.50 271.82,158.48 271.90,158.46 C271.98,158.44 272.07,158.42 272.15,158.39 C272.23,158.37 272.32,158.34 272.40,158.31 C272.48,158.27 272.57,158.24 272.65,158.20 C272.73,158.16 272.82,158.11 272.90,158.06 C272.98,158.01 273.07,157.95 273.15,157.88 C273.23,157.82 273.32,157.75 273.40,157.67 C273.48,157.59 273.57,157.50 273.65,157.40 C273.73,157.31 273.82,157.20 273.90,157.08 C273.98,156.96 274.07,156.83 274.15,156.69 C274.23,156.54 274.32,156.38 274.40,156.21 C274.48,156.04 274.57,155.84 274.65,155.64 C274.73,155.43 274.82,155.20 274.90,154.95 C274.98,154.70 275.07,154.43 275.15,154.14 C275.23,153.85 275.32,153.52 275.40,153.18 C275.48,152.83 275.57,152.46 275.65,152.05 C275.73,151.65 275.82,151.21 275.90,150.74 C275.98,150.27 276.07,149.77 276.15,149.23 C276.23,148.68 276.32,148.10 276.40,147.48 C276.48,146.86 276.57,146.19 276.65,145.48 C276.73,144.77 276.82,144.01 276.90,143.21 C276.98,142.41 277.07,141.55 277.15,140.65 C277.23,139.75 277.32,138.79 277.40,137.78 C277.48,136.77 277.57,135.70 277.65,134.59 C277.73,133.47 277.82,132.28 277.90,131.05 C277.98,129.82 278.07,128.52 278.15,127.17 C278.23,125.82 278.32,124.40 278.40,122.94 C278.48,121.47 278.57,119.94 278.65,118.35 C278.73,116.77 278.82,115.12 278.90,113.43 C278.98,111.73 279.07,109.98 279.15,108.18 C279.23,106.38 279.32,104.52 279.40,102.62 C279.48,100.72 279.57,98.77 279.65,96.79 C279.73,94.80 279.82,92.77 279.90,90.72 C279.98,88.66 280.07,86.56 280.15,84.45 C280.23,82.34 280.32,80.20 280.40,78.05 C280.48,75.90 280.57,73.73 280.65,71.57 C280.73,69.41 280.82,67.23 280.90,65.07 C280.98,62.92 281.07,60.76 281.15,58.63 C281.23,56.51 281.32,54.40 281.40,52.33 C281.48,50.26 281.57,48.22 281.65,46.24 C281.73,44.26 281.82,42.31 281.90,40.44 C281.98,38.57 282.07,36.74 282.15,35.01 C282.23,33.28 282.32,31.60 282.40,30.03 C282.48,28.46 282.57,26.95 282.65,25.57 C282.73,24.19 282.82,22.88 282.90,21.70 C282.98,20.53 283.07,19.43 283.15,18.48 C283.23,17.54 283.32,16.65 283.40,15.96 C283.48,15.26 283.57,14.60 283.65,14.17 C283.73,13.74 283.82,13.28 283.90,13.15 C283.98,13.02 284.07,12.91 284.15,12.91 C284.23,12.91 284.32,13.13 284.40,13.33 C284.48,13.53 284.57,13.93 284.65,14.34 C284.73,14.76 284.82,15.32 284.90,15.94 C284.98,16.55 285.07,17.29 285.15,18.09 C285.23,18.89 285.32,19.81 285.40,20.78 C285.48,21.75 285.57,22.84 285.65,23.97 C285.73,25.11 285.82,26.34 285.90,27.63 C285.98,28.92 286.07,30.29 286.15,31.71 C286.23,33.13 286.32,34.63 286.40,36.17 C286.48,37.71 286.57,39.32 286.65,40.96 C286.73,42.60 286.82,44.30 286.90,46.02 C286.98,47.75 287.07,49.52 287.15,51.31 C287.23,53.10 287.32,54.93 287.40,56.77 C287.48,58.61 287.57,60.48 287.65,62.35 C287.73,64.22 287.82,66.12 287.90,68.00 C287.98,69.89 288.07,71.78 288.15,73.67 C288.23,75.55 288.32,77.44 288.40,79.31 C288.48,81.17 288.57,83.04 288.65,84.88 C288.73,86.71 288.82,88.54 288.90,90.34 C288.98,92.13 289.07,93.91 289.15,95.65 C289.23,97.39 289.32,99.11 289.40,100.79 C289.48,102.47 289.57,104.12 289.65,105.73 C289.73,107.34 289.82,108.92 289.90,110.45 C289.98,111.98 290.07,113.48 290.15,114.93 C290.23,116.38 290.32,117.79 290.40,119.15 C290.48,120.52 290.57,121.84 290.65,123.12 C290.73,124.39 290.82,125.63 290.90,126.81 C290.98,128.00 291.07,129.15 291.15,130.24 C291.23,131.34 291.32,132.40 291.40,133.41 C291.48,134.42 291.57,135.39 291.65,136.32 C291.73,137.24 291.82,138.13 291.90,138.97 C291.98,139.81 292.07,140.62 292.15,141.38 C292.23,142.14 292.32,142.87 292.40,143.56 C292.48,144.24 292.57,144.90 292.65,145.51 C292.73,146.13 292.82,146.72 292.90,147.27 C292.98,147.82 293.07,148.34 293.15,148.83 C293.23,149.32 293.32,149.78 293.40,150.21 C293.48,150.64 293.57,151.05 293.65,151.43 C293.73,151.81 293.82,152.16 293.90,152.50 C293.98,152.83 294.07,153.14 294.15,153.43 C294.23,153.72 294.32,153.99 294.40,154.24 C294.48,154.49 294.57,154.73 294.65,154.94 C294.73,155.16 294.82,155.36 294.90,155.55 C294.98,155.73 295.07,155.91 295.15,156.07 C295.23,156.23 295.32,156.37 295.40,156.51 C295.48,156.64 295.57,156.77 295.65,156.88 C295.73,157.00 295.82,157.10 295.90,157.20 C295.98,157.30 296.07,157.39 296.15,157.47 C296.23,157.55 296.32,157.62 296.40,157.69 C296.48,157.76 296.57,157.82 296.65,157.88 C296.73,157.93 296.82,157.99 296.90,158.03 C296.98,158.08 297.07,158.12 297.15,158.16 C297.23,158.20 297.32,158.23 297.40,158.26 C297.48,158.30 297.57,158.32 297.65,158.35 C297.73,158.38 297.82,158.40 297.90,158.42 C297.98,158.44 298.07,158.46 298.15,158.48 C298.23,158.49 298.32,158.51 298.40,158.52 C298.48,158.54 298.57,158.55 298.65,158.56 C298.73,158.57 298.82,158.58 298.90,158.59 C298.98,158.59 299.07,158.60 299.15,158.61 C299.23,158.61 299.32,158.62 299.40,158.62 C299.48,158.63 299.57,158.63 299.65,158.63 C299.73,158.64 299.82,158.64 299.90,158.64 C299.98,158.64 300.07,158.64 300.15,158.64 C300.23,158.64 300.32,158.64 300.40,158.64 C300.48,158.64 300.57,158.64 300.65,158.64 C300.73,158.63 300.82,158.63 300.90,158.62 C300.98,158.62 301.07,158.61 301.15,158.61 C301.23,158.60 301.32,158.59 301.40,158.58 C301.48,158.57 301.57,158.56 301.65,158.55 C301.73,158.54 301.82,158.52 301.90,158.51 C301.98,158.49 302.07,158.47 302.15,158.45 C302.23,158.43 302.32,158.41 302.40,158.38 C302.48,158.35 302.57,158.32 302.65,158.29 C302.73,158.25 302.82,158.21 302.90,158.17 C302.98,158.13 303.07,158.08 303.15,158.03 C303.23,157.97 303.32,157.91 303.40,157.84 C303.48,157.78 303.57,157.70 303.65,157.62 C303.73,157.54 303.82,157.45 303.90,157.34 C303.98,157.24 304.07,157.13 304.15,157.01 C304.23,156.88 304.32,156.75 304.40,156.60 C304.48,156.45 304.57,156.28 304.65,156.10 C304.73,155.92 304.82,155.72 304.90,155.51 C304.98,155.29 305.07,155.06 305.15,154.80 C305.23,154.54 305.32,154.26 305.40,153.96 C305.48,153.66 305.57,153.32 305.65,152.97 C305.73,152.61 305.82,152.22 305.90,151.81 C305.98,151.39 306.07,150.94 306.15,150.46 C306.23,149.97 306.32,149.45 306.40,148.90 C306.48,148.34 306.57,147.74 306.65,147.10 C306.73,146.46 306.82,145.78 306.90,145.05 C306.98,144.32 307.07,143.55 307.15,142.72 C307.23,141.90 307.32,141.03 307.40,140.10 C307.48,139.18 307.57,138.20 307.65,137.17 C307.73,136.14 307.82,135.05 307.90,133.91 C307.98,132.76 308.07,131.56 308.15,130.30 C308.23,129.05 308.32,127.72 308.40,126.35 C308.48,124.98 308.57,123.54 308.65,122.05 C308.73,120.56 308.82,119.00 308.90,117.39 C308.98,115.79 309.07,114.12 309.15,112.40 C309.23,110.69 309.32,108.91 309.40,107.09 C309.48,105.27 309.57,103.39 309.65,101.47 C309.73,99.56 309.82,97.59 309.90,95.59 C309.98,93.59 310.07,91.55 310.15,89.48 C310.23,87.41 310.32,85.30 310.40,83.18 C310.48,81.06 310.57,78.91 310.65,76.76 C310.73,74.61 310.82,72.43 310.90,70.27 C310.98,68.10 311.07,65.93 311.15,63.78 C311.23,61.63 311.32,59.47 311.40,57.36 C311.48,55.25 311.57,53.14 311.65,51.09 C311.73,49.04 311.82,47.01 311.90,45.05 C311.98,43.09 312.07,41.16 312.15,39.32 C312.23,37.48 312.32,35.68 312.40,33.98 C312.48,32.28 312.57,30.63 312.65,29.10 C312.73,27.56 312.82,26.09 312.90,24.75 C312.98,23.41 313.07,22.13 313.15,21.01 C313.23,19.88 313.32,18.82 313.40,17.92 C313.48,17.02 313.57,16.19 313.65,15.54 C313.73,14.89 313.82,14.28 313.90,13.91 C313.98,13.53 314.07,13.10 314.15,13.04 C314.23,12.99 314.32,12.95 314.40,12.95 C314.48,12.95 314.57,13.24 314.65,13.49 C314.73,13.73 314.82,14.16 314.90,14.62 C314.98,15.07 315.07,15.67 315.15,16.32 C315.23,16.97 315.32,17.75 315.40,18.59 C315.48,19.42 315.57,20.37 315.65,21.38 C315.73,22.39 315.82,23.50 315.90,24.67 C315.98,25.84 316.07,27.10 316.15,28.41 C316.23,29.73 316.32,31.13 316.40,32.58 C316.48,34.02 316.57,35.54 316.65,37.11 C316.73,38.67 316.82,40.29 316.90,41.95 C316.98,43.61 317.07,45.33 317.15,47.07 C317.23,48.81 317.32,50.59 317.40,52.39 C317.48,54.20 317.57,56.03 317.65,57.88 C317.73,59.73 317.82,61.60 317.90,63.48 C317.98,65.35 318.07,67.25 318.15,69.13 C318.23,71.02 318.32,72.92 318.40,74.80 C318.48,76.68 318.57,78.56 318.65,80.43 C318.73,82.29 318.82,84.15 318.90,85.98 C318.98,87.81 319.07,89.63 319.15,91.41 C319.23,93.20 319.32,94.97 319.40,96.70 C319.48,98.43 319.57,100.13 319.65,101.80 C319.73,103.46 319.82,105.10 319.90,106.70 C319.98,108.29 320.07,109.85 320.15,111.37 C320.23,112.88 320.32,114.36 320.40,115.79 C320.48,117.23 320.57,118.62 320.65,119.97 C320.73,121.31 320.82,122.62 320.90,123.88 C320.98,125.13 321.07,126.35 321.15,127.52 C321.23,128.69 321.32,129.82 321.40,130.90 C321.48,131.98 321.57,133.02 321.65,134.01 C321.73,135.00 321.82,135.96 321.90,136.87 C321.98,137.77 322.07,138.64 322.15,139.47 C322.23,140.29 322.32,141.08 322.40,141.83 C322.48,142.58 322.57,143.29 322.65,143.96 C322.73,144.64 322.82,145.28 322.90,145.88 C322.98,146.48 323.07,147.06 323.15,147.59 C323.23,148.13 323.32,148.64 323.40,149.12 C323.48,149.59 323.57,150.04 323.65,150.47 C323.73,150.89 323.82,151.28 323.90,151.65 C323.98,152.02 324.07,152.37 324.15,152.69 C324.23,153.02 324.32,153.32 324.40,153.60 C324.48,153.88 324.57,154.15 324.65,154.39 C324.73,154.63 324.82,154.86 324.90,155.07 C324.98,155.28 325.07,155.48 325.15,155.66 C325.23,155.84 325.32,156.01 325.40,156.16 C325.48,156.31 325.57,156.46 325.65,156.59 C325.73,156.72 325.82,156.84 325.90,156.95 C325.98,157.06 326.07,157.16 326.15,157.26 C326.23,157.35 326.32,157.44 326.40,157.52 C326.48,157.59 326.57,157.67 326.65,157.73 C326.73,157.80 326.82,157.86 326.90,157.91 C326.98,157.97 327.07,158.01 327.15,158.06 C327.23,158.10 327.32,158.15 327.40,158.18 C327.48,158.22 327.57,158.25 327.65,158.28 C327.73,158.31 327.82,158.34 327.90,158.37 C327.98,158.39 328.07,158.41 328.15,158.43 C328.23,158.45 328.32,158.47 328.40,158.49 C328.48,158.50 328.57,158.52 328.65,158.53" fill="none" stroke="#b9b9b9" stroke-width="1.9" stroke-linejoin="round"/>
<rect x="71.5" y="6.5" width="266.5" height="159.0" fill="none" stroke="#444" stroke-width="1"/>
<text class="k" x="10.5" y="16" font-size="16" text-anchor="start" font-weight="bold" fill="#000">a</text>
<text class="k" x="10.4" y="81.2" font-size="13.5" text-anchor="middle" font-weight="normal" fill="#000" transform="rotate(-90 10.4 81.2)">Larval density</text>
<text class="k" x="396.6" y="80.5" font-size="13.3" text-anchor="middle" font-weight="normal" fill="#000" transform="rotate(-90 396.6 80.5)">Adult density</text>
<line x1="479.5" y1="159.3" x2="485.5" y2="159.3" stroke="#444" stroke-width="1"/>
<line x1="479.5" y1="112.56666666666666" x2="485.5" y2="112.56666666666666" stroke="#444" stroke-width="1"/>
<line x1="479.5" y1="65.83333333333333" x2="485.5" y2="65.83333333333333" stroke="#444" stroke-width="1"/>
<line x1="479.5" y1="19.099999999999994" x2="485.5" y2="19.099999999999994" stroke="#444" stroke-width="1"/>
<text class="k" x="474.0" y="163.5" font-size="10.5" text-anchor="end" font-weight="normal" fill="#000">0</text>
<text class="k" x="474.0" y="116.76666666666667" font-size="10.5" text-anchor="end" font-weight="normal" fill="#000">5000</text>
<text class="k" x="474.0" y="70.03333333333333" font-size="10.5" text-anchor="end" font-weight="normal" fill="#000">10000</text>
<text class="k" x="474.0" y="23.299999999999994" font-size="10.5" text-anchor="end" font-weight="normal" fill="#000">15000</text>
<line x1="752.5" y1="159.5" x2="758.5" y2="159.5" stroke="#444" stroke-width="1"/>
<line x1="752.5" y1="126.1" x2="758.5" y2="126.1" stroke="#444" stroke-width="1"/>
<line x1="752.5" y1="92.7" x2="758.5" y2="92.7" stroke="#444" stroke-width="1"/>
<line x1="752.5" y1="59.3" x2="758.5" y2="59.3" stroke="#444" stroke-width="1"/>
<line x1="752.5" y1="25.900000000000006" x2="758.5" y2="25.900000000000006" stroke="#444" stroke-width="1"/>
<text class="k" x="766.5" y="163.5" font-size="10.5" text-anchor="start" font-weight="normal" fill="#000">0</text>
<text class="k" x="766.5" y="130.1" font-size="10.5" text-anchor="start" font-weight="normal" fill="#000">1000</text>
<text class="k" x="766.5" y="63.3" font-size="10.5" text-anchor="start" font-weight="normal" fill="#000">3000</text>
<line x1="495.4" y1="165.5" x2="495.4" y2="171.5" stroke="#444" stroke-width="1"/>
<line x1="530.6859999999999" y1="165.5" x2="530.6859999999999" y2="171.5" stroke="#444" stroke-width="1"/>
<line x1="565.972" y1="165.5" x2="565.972" y2="171.5" stroke="#444" stroke-width="1"/>
<line x1="601.258" y1="165.5" x2="601.258" y2="171.5" stroke="#444" stroke-width="1"/>
<line x1="636.544" y1="165.5" x2="636.544" y2="171.5" stroke="#444" stroke-width="1"/>
<line x1="671.8299999999999" y1="165.5" x2="671.8299999999999" y2="171.5" stroke="#444" stroke-width="1"/>
<line x1="707.116" y1="165.5" x2="707.116" y2="171.5" stroke="#444" stroke-width="1"/>
<line x1="742.402" y1="165.5" x2="742.402" y2="171.5" stroke="#444" stroke-width="1"/>
<path d="M495.40,159.20 C497.23,159.20 499.07,159.20 500.90,159.20 C501.00,159.20 501.10,154.79 501.20,150.00 C501.33,143.62 501.47,108.48 501.60,100.00 C501.83,85.16 502.07,77.16 502.30,72.00 C502.67,63.90 503.03,59.50 503.40,56.00 C503.70,53.14 504.00,50.18 504.30,49.50 C504.60,48.82 504.90,48.30 505.20,48.30 C505.53,48.30 505.87,49.09 506.20,50.00 C506.57,51.00 506.93,55.12 507.30,58.00 C507.77,61.66 508.23,67.10 508.70,70.00 C509.10,72.48 509.50,73.81 509.90,75.90 C510.27,77.81 510.63,79.05 511.00,82.00 C511.40,85.22 511.80,93.64 512.20,100.00 C512.63,106.89 513.07,115.78 513.50,122.00 C513.90,127.74 514.30,133.02 514.70,137.00 C515.23,142.31 515.77,147.11 516.30,150.00 C516.70,152.17 517.10,154.07 517.50,155.00 C517.87,155.86 518.23,156.80 518.60,156.80 C518.93,156.80 519.27,155.49 519.60,154.00 C519.93,152.51 520.27,147.55 520.60,143.00 C520.93,138.45 521.27,132.50 521.60,125.00 C521.93,117.50 522.27,104.47 522.60,95.00 C522.93,85.53 523.27,75.69 523.60,68.00 C524.00,58.77 524.40,50.40 524.80,44.00 C525.20,37.60 525.60,31.50 526.00,28.00 C526.47,23.92 526.93,20.10 527.40,19.00 C527.97,17.66 528.53,16.60 529.10,16.60 C529.67,16.60 530.23,17.96 530.80,19.50 C531.33,20.95 531.87,25.26 532.40,30.00 C532.93,34.74 533.47,43.79 534.00,52.00 C534.53,60.21 535.07,71.38 535.60,80.00 C536.13,88.62 536.67,97.64 537.20,104.00 C537.63,109.16 538.07,113.80 538.50,117.00 C538.87,119.70 539.23,123.50 539.60,123.50 C540.00,123.50 540.40,122.34 540.80,121.00 C541.27,119.44 541.73,114.22 542.20,108.00 C542.67,101.78 543.13,83.29 543.60,75.00 C543.87,70.26 544.13,66.51 544.40,63.20 C544.87,57.41 545.33,52.86 545.80,48.60 C546.40,43.12 547.00,38.43 547.60,34.10 C547.97,31.45 548.33,28.68 548.70,26.80 C549.30,23.72 549.90,22.01 550.50,19.50 C550.83,18.10 551.17,16.10 551.50,15.20 C551.80,14.39 552.10,13.40 552.40,13.40 C552.73,13.40 553.07,14.35 553.40,15.20 C553.73,16.05 554.07,17.67 554.40,19.50 C554.77,21.52 555.13,24.94 555.50,28.00 C555.87,31.06 556.23,34.57 556.60,38.00 C556.97,41.43 557.33,45.75 557.70,48.60 C558.13,51.97 558.57,54.72 559.00,57.00 C559.47,59.46 559.93,61.60 560.40,63.20 C560.87,64.80 561.33,67.10 561.80,67.10 C562.20,67.10 562.60,66.75 563.00,66.30 C563.33,65.93 563.67,64.35 564.00,63.20 C564.60,61.13 565.20,58.43 565.80,56.00 C566.40,53.57 567.00,51.03 567.60,48.60 C568.23,46.03 568.87,43.48 569.50,41.00 C570.10,38.65 570.70,36.65 571.30,34.10 C571.77,32.12 572.23,29.30 572.70,27.50 C573.23,25.44 573.77,23.35 574.30,22.30 C575.00,20.92 575.70,19.40 576.40,19.40 C576.80,19.40 577.20,20.01 577.60,20.60 C577.97,21.15 578.33,22.49 578.70,23.70 C579.13,25.13 579.57,27.61 580.00,28.90 C580.43,30.19 580.87,31.21 581.30,32.00 C581.90,33.09 582.50,33.71 583.10,34.60 C583.67,35.44 584.23,36.34 584.80,37.20 C585.67,38.51 586.53,40.22 587.40,41.10 C588.13,41.84 588.87,42.80 589.60,42.80 C590.33,42.80 591.07,42.17 591.80,41.50 C592.67,40.71 593.53,37.70 594.40,35.90 C595.27,34.10 596.13,31.66 597.00,30.70 C597.87,29.74 598.73,28.70 599.60,28.70 C600.47,28.70 601.33,28.70 602.20,28.70 C603.23,28.70 604.27,28.50 605.30,28.50 C606.00,28.50 606.70,29.26 607.40,29.80 C608.60,30.72 609.80,32.71 611.00,33.70 C611.83,34.39 612.67,35.40 613.50,35.40 C614.40,35.40 615.30,35.32 616.20,35.20 C617.07,35.09 617.93,34.10 618.80,33.70 C619.93,33.17 621.07,32.89 622.20,32.40 C623.67,31.77 625.13,30.62 626.60,30.20 C627.57,29.92 628.53,29.60 629.50,29.60 C630.33,29.60 631.17,30.09 632.00,30.40 C632.80,30.70 633.60,31.22 634.40,31.50 C635.60,31.92 636.80,32.35 638.00,32.50 C639.73,32.72 641.47,32.90 643.20,32.90 C644.80,32.90 646.40,32.29 648.00,32.00 C649.70,31.69 651.40,31.10 653.10,31.10 C655.07,31.10 657.03,31.10 659.00,31.10 C660.33,31.10 661.67,31.59 663.00,31.80 C664.60,32.06 666.20,32.50 667.80,32.50 C669.87,32.50 671.93,32.14 674.00,32.00 C676.87,31.80 679.73,31.50 682.60,31.50 C685.07,31.50 687.53,31.64 690.00,31.70 C692.77,31.77 695.53,31.90 698.30,31.90 C702.20,31.90 706.10,31.60 710.00,31.60 C715.00,31.60 720.00,31.60 725.00,31.60 C730.80,31.60 736.60,31.60 742.40,31.60" fill="none" stroke="#000" stroke-width="1.9" stroke-linejoin="round"/>
<path d="M495.90,12.10 C496.13,16.40 496.37,19.00 496.60,25.00 C496.87,31.85 497.13,47.61 497.40,60.00 C497.63,70.85 497.87,84.66 498.10,94.60 C498.47,110.22 498.83,126.70 499.20,135.00 C499.57,143.30 499.93,150.24 500.30,153.00 C500.70,156.01 501.10,158.80 501.50,158.80 C504.90,158.80 508.30,158.80 511.70,158.80 C512.07,158.80 512.43,157.49 512.80,156.00 C513.27,154.11 513.73,147.32 514.20,140.00 C514.67,132.68 515.13,117.93 515.60,105.00 C516.13,90.22 516.67,69.69 517.20,55.00 C517.53,45.82 517.87,34.59 518.20,30.00 C518.53,25.41 518.87,20.50 519.20,20.50 C519.57,20.50 519.93,25.19 520.30,30.00 C520.67,34.81 521.03,47.95 521.40,60.00 C521.80,73.15 522.20,97.50 522.60,110.00 C523.00,122.50 523.40,135.17 523.80,140.00 C524.37,146.85 524.93,150.85 525.50,153.00 C526.10,155.27 526.70,157.07 527.30,157.50 C528.03,158.03 528.77,158.40 529.50,158.40 C530.23,158.40 530.97,158.04 531.70,157.50 C532.30,157.06 532.90,154.77 533.50,152.00 C534.10,149.23 534.70,142.40 535.30,135.00 C535.87,128.01 536.43,116.14 537.00,105.00 C537.60,93.21 538.20,77.82 538.80,65.00 C539.37,52.89 539.93,38.86 540.50,30.00 C540.83,24.79 541.17,19.04 541.50,17.00 C541.83,14.96 542.17,13.00 542.50,13.00 C542.83,13.00 543.17,14.96 543.50,17.00 C543.87,19.25 544.23,25.75 544.60,32.00 C545.13,41.09 545.67,57.44 546.20,70.00 C546.80,84.13 547.40,101.29 548.00,112.00 C548.60,122.71 549.20,133.09 549.80,138.00 C550.47,143.46 551.13,149.30 551.80,149.30 C552.47,149.30 553.13,147.75 553.80,146.00 C554.47,144.25 555.13,138.70 555.80,133.00 C556.47,127.30 557.13,117.48 557.80,108.00 C558.47,98.52 559.13,85.10 559.80,75.00 C560.47,64.90 561.13,54.05 561.80,47.00 C562.47,39.95 563.13,33.03 563.80,30.00 C564.30,27.72 564.80,25.65 565.30,25.20 C565.67,24.87 566.03,24.60 566.40,24.60 C566.80,24.60 567.20,25.75 567.60,27.00 C568.13,28.66 568.67,34.30 569.20,40.00 C569.73,45.70 570.27,56.17 570.80,65.00 C571.37,74.39 571.93,88.28 572.50,95.00 C573.13,102.51 573.77,111.80 574.40,111.80 C575.10,111.80 575.80,109.15 576.50,108.00 C577.17,106.91 577.83,105.31 578.50,105.00 C578.97,104.78 579.43,104.80 579.90,104.60 C580.43,104.37 580.97,103.70 581.50,103.00 C582.17,102.12 582.83,100.77 583.50,99.00 C584.10,97.41 584.70,95.37 585.30,92.00 C585.87,88.81 586.43,80.47 587.00,75.00 C587.50,70.18 588.00,63.09 588.50,61.00 C589.17,58.21 589.83,55.80 590.50,55.80 C591.20,55.80 591.90,59.25 592.60,62.00 C593.33,64.88 594.07,72.08 594.80,75.00 C595.40,77.39 596.00,79.80 596.60,80.50 C597.20,81.20 597.80,81.19 598.40,81.80 C599.43,82.85 600.47,86.03 601.50,88.00 C602.63,90.16 603.77,94.20 604.90,94.20 C605.93,94.20 606.97,90.37 608.00,88.00 C609.17,85.32 610.33,79.68 611.50,78.50 C612.93,77.05 614.37,76.31 615.80,75.90 C617.03,75.55 618.27,75.20 619.50,75.20 C620.87,75.20 622.23,78.13 623.60,79.70 C625.23,81.57 626.87,85.60 628.50,85.60 C630.47,85.60 632.43,84.29 634.40,83.60 C635.70,83.15 637.00,82.79 638.30,82.20 C640.27,81.30 642.23,78.30 644.20,78.30 C645.83,78.30 647.47,80.02 649.10,80.70 C651.07,81.51 653.03,82.50 655.00,82.80 C656.33,83.00 657.67,83.20 659.00,83.20 C661.93,83.20 664.87,80.30 667.80,80.30 C670.20,80.30 672.60,80.89 675.00,81.20 C677.53,81.52 680.07,82.20 682.60,82.20 C687.17,82.20 691.73,80.90 696.30,80.90 C700.90,80.90 705.50,81.70 710.10,81.70 C715.07,81.70 720.03,81.40 725.00,81.40 C730.80,81.40 736.60,81.60 742.40,81.70" fill="none" stroke="#b9b9b9" stroke-width="1.9" stroke-linejoin="round"/>
<rect x="485.5" y="6.5" width="267.0" height="159.0" fill="none" stroke="#444" stroke-width="1"/>
<text class="k" x="426.8" y="16" font-size="16" text-anchor="start" font-weight="bold" fill="#000">b</text>
<text class="k" x="434.3" y="80.3" font-size="13.5" text-anchor="middle" font-weight="normal" fill="#000" transform="rotate(-90 434.3 80.3)">Larval density</text>
<text class="k" x="809.4" y="80.75" font-size="14.7" text-anchor="middle" font-weight="normal" fill="#000" transform="rotate(-90 809.4 80.75)">Adult density</text>
<line x1="65.5" y1="428.6" x2="71.5" y2="428.6" stroke="#444" stroke-width="1"/>
<line x1="65.5" y1="366.6" x2="71.5" y2="366.6" stroke="#444" stroke-width="1"/>
<line x1="65.5" y1="304.6" x2="71.5" y2="304.6" stroke="#444" stroke-width="1"/>
<text class="k" x="60.0" y="432.8" font-size="10.5" text-anchor="end" font-weight="normal" fill="#000">0.0</text>
<text class="k" x="60.0" y="370.8" font-size="10.5" text-anchor="end" font-weight="normal" fill="#000">0.5</text>
<text class="k" x="60.0" y="308.8" font-size="10.5" text-anchor="end" font-weight="normal" fill="#000">1.0</text>
<line x1="338.0" y1="410.8" x2="344.0" y2="410.8" stroke="#444" stroke-width="1"/>
<line x1="338.0" y1="383.5" x2="344.0" y2="383.5" stroke="#444" stroke-width="1"/>
<line x1="338.0" y1="356.20000000000005" x2="344.0" y2="356.20000000000005" stroke="#444" stroke-width="1"/>
<line x1="338.0" y1="328.9" x2="344.0" y2="328.9" stroke="#444" stroke-width="1"/>
<line x1="338.0" y1="301.6" x2="344.0" y2="301.6" stroke="#444" stroke-width="1"/>
<text class="k" x="352.0" y="414.8" font-size="10.5" text-anchor="start" font-weight="normal" fill="#000">0.1</text>
<text class="k" x="352.0" y="360.20000000000005" font-size="10.5" text-anchor="start" font-weight="normal" fill="#000">0.3</text>
<text class="k" x="352.0" y="305.6" font-size="10.5" text-anchor="start" font-weight="normal" fill="#000">0.5</text>
<line x1="81.0" y1="433.5" x2="81.0" y2="439.5" stroke="#444" stroke-width="1"/>
<line x1="116.286" y1="433.5" x2="116.286" y2="439.5" stroke="#444" stroke-width="1"/>
<line x1="151.572" y1="433.5" x2="151.572" y2="439.5" stroke="#444" stroke-width="1"/>
<line x1="186.858" y1="433.5" x2="186.858" y2="439.5" stroke="#444" stroke-width="1"/>
<line x1="222.144" y1="433.5" x2="222.144" y2="439.5" stroke="#444" stroke-width="1"/>
<line x1="257.43" y1="433.5" x2="257.43" y2="439.5" stroke="#444" stroke-width="1"/>
<line x1="292.716" y1="433.5" x2="292.716" y2="439.5" stroke="#444" stroke-width="1"/>
<line x1="328.002" y1="433.5" x2="328.002" y2="439.5" stroke="#444" stroke-width="1"/>
<text class="k" x="79.3" y="452.7" font-size="10.5" text-anchor="middle" font-weight="normal" fill="#000">0</text>
<text class="k" x="114.586" y="452.7" font-size="10.5" text-anchor="middle" font-weight="normal" fill="#000">100</text>
<text class="k" x="149.872" y="452.7" font-size="10.5" text-anchor="middle" font-weight="normal" fill="#000">200</text>
<text class="k" x="185.15800000000002" y="452.7" font-size="10.5" text-anchor="middle" font-weight="normal" fill="#000">300</text>
<text class="k" x="220.44400000000002" y="452.7" font-size="10.5" text-anchor="middle" font-weight="normal" fill="#000">400</text>
<text class="k" x="255.73000000000002" y="452.7" font-size="10.5" text-anchor="middle" font-weight="normal" fill="#000">500</text>
<text class="k" x="291.016" y="452.7" font-size="10.5" text-anchor="middle" font-weight="normal" fill="#000">600</text>
<text class="k" x="326.302" y="452.7" font-size="10.5" text-anchor="middle" font-weight="normal" fill="#000">700</text>
<path d="M80.90,388.80 C81.43,386.53 81.97,384.05 82.50,382.00 C83.17,379.43 83.83,377.57 84.50,375.00 C85.20,372.30 85.90,369.62 86.60,366.00 C87.00,363.93 87.40,360.74 87.80,358.50 C88.07,357.01 88.33,354.40 88.60,354.40 C88.83,354.40 89.07,357.59 89.30,360.00 C89.53,362.41 89.77,366.38 90.00,370.20 C90.40,376.74 90.80,387.23 91.20,393.20 C91.63,399.67 92.07,406.47 92.50,409.00 C92.87,411.14 93.23,412.64 93.60,413.30 C94.03,414.08 94.47,414.80 94.90,414.80 C95.43,414.80 95.97,414.60 96.50,414.30 C97.10,413.97 97.70,411.26 98.30,409.00 C98.87,406.87 99.43,403.32 100.00,400.20 C100.60,396.90 101.20,392.96 101.80,389.60 C102.40,386.24 103.00,382.36 103.60,380.00 C104.17,377.78 104.73,376.08 105.30,374.70 C105.90,373.23 106.50,372.87 107.10,371.10 C107.50,369.92 107.90,367.68 108.30,365.00 C108.77,361.87 109.23,355.77 109.70,350.90 C110.00,347.77 110.30,341.20 110.60,341.20 C110.93,341.20 111.27,347.18 111.60,351.00 C112.13,357.11 112.67,367.24 113.20,373.80 C113.80,381.18 114.40,388.66 115.00,393.20 C115.60,397.74 116.20,402.21 116.80,403.70 C117.37,405.11 117.93,406.40 118.50,406.40 C119.10,406.40 119.70,405.50 120.30,404.60 C121.07,403.45 121.83,400.78 122.60,397.00 C123.13,394.37 123.67,387.42 124.20,383.00 C124.97,376.64 125.73,370.27 126.50,365.00 C127.23,359.96 127.97,354.57 128.70,351.50 C129.23,349.27 129.77,347.19 130.30,346.30 C130.77,345.52 131.23,344.70 131.70,344.70 C132.20,344.70 132.70,345.48 133.20,346.30 C133.80,347.28 134.40,350.35 135.00,353.00 C135.83,356.69 136.67,362.17 137.50,367.00 C138.33,371.83 139.17,377.56 140.00,382.00 C140.83,386.44 141.67,390.92 142.50,394.00 C143.33,397.08 144.17,399.93 145.00,401.50 C145.67,402.76 146.33,403.96 147.00,404.30 C147.63,404.62 148.27,404.90 148.90,404.90 C149.60,404.90 150.30,404.06 151.00,403.20 C151.77,402.25 152.53,399.73 153.30,397.00 C154.07,394.27 154.83,389.60 155.60,385.00 C156.40,380.20 157.20,373.18 158.00,368.00 C158.67,363.68 159.33,358.41 160.00,356.00 C160.60,353.83 161.20,351.30 161.80,351.30 C162.43,351.30 163.07,352.63 163.70,354.00 C164.40,355.52 165.10,360.19 165.80,364.00 C166.63,368.53 167.47,374.87 168.30,380.00 C169.20,385.54 170.10,391.98 171.00,396.00 C171.83,399.72 172.67,402.81 173.50,405.00 C174.17,406.75 174.83,408.62 175.50,409.20 C175.97,409.61 176.43,410.00 176.90,410.00 C177.47,410.00 178.03,409.67 178.60,409.30 C179.40,408.77 180.20,406.59 181.00,404.50 C181.83,402.32 182.67,398.53 183.50,395.00 C184.50,390.76 185.50,385.09 186.50,380.50 C187.40,376.37 188.30,371.60 189.20,368.70 C189.93,366.33 190.67,363.68 191.40,363.00 C192.10,362.35 192.80,361.80 193.50,361.80 C193.67,361.80 193.83,361.90 194.00,361.99 C194.17,362.09 194.33,362.33 194.50,362.57 C194.67,362.81 194.83,363.16 195.00,363.52 C195.17,363.89 195.33,364.35 195.50,364.83 C195.67,365.31 195.83,365.87 196.00,366.46 C196.17,367.05 196.33,367.71 196.50,368.39 C196.67,369.08 196.83,369.82 197.00,370.58 C197.17,371.35 197.33,372.16 197.50,372.99 C197.67,373.82 197.83,374.69 198.00,375.57 C198.17,376.45 198.33,377.36 198.50,378.28 C198.67,379.20 198.83,380.14 199.00,381.07 C199.17,382.01 199.33,382.96 199.50,383.90 C199.67,384.84 199.83,385.79 200.00,386.72 C200.17,387.66 200.33,388.59 200.50,389.50 C200.67,390.41 200.83,391.31 201.00,392.19 C201.17,393.07 201.33,393.93 201.50,394.76 C201.67,395.60 201.83,396.41 202.00,397.20 C202.17,397.98 202.33,398.74 202.50,399.46 C202.67,400.19 202.83,400.89 203.00,401.55 C203.17,402.21 203.33,402.85 203.50,403.45 C203.67,404.04 203.83,404.62 204.00,405.15 C204.17,405.68 204.33,406.18 204.50,406.65 C204.67,407.12 204.83,407.56 205.00,407.97 C205.17,408.37 205.33,408.75 205.50,409.09 C205.67,409.44 205.83,409.76 206.00,410.05 C206.17,410.34 206.33,410.61 206.50,410.85 C206.67,411.08 206.83,411.30 207.00,411.49 C207.17,411.68 207.33,411.85 207.50,412.00 C207.67,412.15 207.83,412.28 208.00,412.39 C208.17,412.49 208.33,412.59 208.50,412.66 C208.67,412.73 208.83,412.80 209.00,412.83 C209.17,412.86 209.33,412.90 209.50,412.90 C209.67,412.90 209.83,412.89 210.00,412.87 C210.17,412.86 210.33,412.81 210.50,412.76 C210.67,412.71 210.83,412.64 211.00,412.56 C211.17,412.47 211.33,412.37 211.50,412.25 C211.67,412.14 211.83,412.00 212.00,411.85 C212.17,411.70 212.33,411.52 212.50,411.33 C212.67,411.13 212.83,410.91 213.00,410.68 C213.17,410.44 213.33,410.17 213.50,409.89 C213.67,409.60 213.83,409.29 214.00,408.95 C214.17,408.61 214.33,408.25 214.50,407.85 C214.67,407.46 214.83,407.04 215.00,406.59 C215.17,406.14 215.33,405.66 215.50,405.15 C215.67,404.65 215.83,404.11 216.00,403.54 C216.17,402.98 216.33,402.38 216.50,401.76 C216.67,401.14 216.83,400.49 217.00,399.82 C217.17,399.15 217.33,398.44 217.50,397.73 C217.67,397.01 217.83,396.26 218.00,395.50 C218.17,394.74 218.33,393.96 218.50,393.16 C218.67,392.37 218.83,391.56 219.00,390.74 C219.17,389.93 219.33,389.10 219.50,388.27 C219.67,387.45 219.83,386.61 220.00,385.79 C220.17,384.96 220.33,384.13 220.50,383.32 C220.67,382.51 220.83,381.70 221.00,380.92 C221.17,380.14 221.33,379.36 221.50,378.62 C221.67,377.88 221.83,377.15 222.00,376.46 C222.17,375.78 222.33,375.11 222.50,374.49 C222.67,373.87 222.83,373.28 223.00,372.74 C223.17,372.20 223.33,371.69 223.50,371.24 C223.67,370.80 223.83,370.38 224.00,370.03 C224.17,369.68 224.33,369.36 224.50,369.13 C224.67,368.89 224.83,368.66 225.00,368.55 C225.17,368.43 225.33,368.31 225.50,368.31 C225.67,368.31 225.83,368.36 226.00,368.43 C226.17,368.50 226.33,368.73 226.50,368.95 C226.67,369.17 226.83,369.51 227.00,369.86 C227.17,370.22 227.33,370.66 227.50,371.14 C227.67,371.61 227.83,372.17 228.00,372.75 C228.17,373.34 228.33,373.99 228.50,374.67 C228.67,375.35 228.83,376.09 229.00,376.85 C229.17,377.60 229.33,378.41 229.50,379.23 C229.67,380.05 229.83,380.91 230.00,381.78 C230.17,382.65 230.33,383.54 230.50,384.43 C230.67,385.33 230.83,386.24 231.00,387.15 C231.17,388.05 231.33,388.97 231.50,389.87 C231.67,390.77 231.83,391.67 232.00,392.55 C232.17,393.43 232.33,394.30 232.50,395.15 C232.67,396.00 232.83,396.83 233.00,397.63 C233.17,398.44 233.33,399.22 233.50,399.97 C233.67,400.72 233.83,401.44 234.00,402.13 C234.17,402.82 234.33,403.48 234.50,404.10 C234.67,404.73 234.83,405.32 235.00,405.88 C235.17,406.43 235.33,406.96 235.50,407.45 C235.67,407.93 235.83,408.39 236.00,408.81 C236.17,409.23 236.33,409.63 236.50,409.98 C236.67,410.34 236.83,410.67 237.00,410.97 C237.17,411.27 237.33,411.54 237.50,411.78 C237.67,412.03 237.83,412.25 238.00,412.44 C238.17,412.63 238.33,412.80 238.50,412.95 C238.67,413.10 238.83,413.23 239.00,413.33 C239.17,413.44 239.33,413.53 239.50,413.60 C239.67,413.66 239.83,413.72 240.00,413.75 C240.17,413.77 240.33,413.80 240.50,413.80 C240.67,413.80 240.83,413.78 241.00,413.75 C241.17,413.73 241.33,413.67 241.50,413.60 C241.67,413.54 241.83,413.45 242.00,413.35 C242.17,413.25 242.33,413.12 242.50,412.98 C242.67,412.84 242.83,412.67 243.00,412.49 C243.17,412.31 243.33,412.09 243.50,411.86 C243.67,411.63 243.83,411.37 244.00,411.08 C244.17,410.79 244.33,410.48 244.50,410.13 C244.67,409.79 244.83,409.41 245.00,409.01 C245.17,408.60 245.33,408.16 245.50,407.69 C245.67,407.23 245.83,406.72 246.00,406.19 C246.17,405.65 246.33,405.08 246.50,404.48 C246.67,403.89 246.83,403.25 247.00,402.59 C247.17,401.93 247.33,401.23 247.50,400.51 C247.67,399.79 247.83,399.03 248.00,398.26 C248.17,397.49 248.33,396.68 248.50,395.87 C248.67,395.05 248.83,394.21 249.00,393.36 C249.17,392.51 249.33,391.64 249.50,390.76 C249.67,389.89 249.83,389.01 250.00,388.13 C250.17,387.25 250.33,386.36 250.50,385.50 C250.67,384.63 250.83,383.76 251.00,382.91 C251.17,382.07 251.33,381.23 251.50,380.42 C251.67,379.62 251.83,378.83 252.00,378.08 C252.17,377.34 252.33,376.61 252.50,375.94 C252.67,375.27 252.83,374.62 253.00,374.04 C253.17,373.46 253.33,372.90 253.50,372.42 C253.67,371.94 253.83,371.49 254.00,371.12 C254.17,370.76 254.33,370.41 254.50,370.17 C254.67,369.93 254.83,369.69 255.00,369.59 C255.17,369.50 255.33,369.40 255.50,369.40 C255.67,369.40 255.83,369.49 256.00,369.59 C256.17,369.68 256.33,369.92 256.50,370.15 C256.67,370.39 256.83,370.72 257.00,371.08 C257.17,371.43 257.33,371.88 257.50,372.34 C257.67,372.81 257.83,373.35 258.00,373.92 C258.17,374.49 258.33,375.12 258.50,375.78 C258.67,376.44 258.83,377.15 259.00,377.88 C259.17,378.61 259.33,379.38 259.50,380.17 C259.67,380.96 259.83,381.78 260.00,382.61 C260.17,383.44 260.33,384.30 260.50,385.15 C260.67,386.01 260.83,386.88 261.00,387.75 C261.17,388.61 261.33,389.49 261.50,390.35 C261.67,391.21 261.83,392.07 262.00,392.92 C262.17,393.76 262.33,394.60 262.50,395.41 C262.67,396.23 262.83,397.03 263.00,397.80 C263.17,398.57 263.33,399.33 263.50,400.05 C263.67,400.77 263.83,401.47 264.00,402.14 C264.17,402.80 264.33,403.45 264.50,404.05 C264.67,404.66 264.83,405.24 265.00,405.78 C265.17,406.32 265.33,406.84 265.50,407.32 C265.67,407.80 265.83,408.25 266.00,408.66 C266.17,409.08 266.33,409.47 266.50,409.83 C266.67,410.18 266.83,410.51 267.00,410.81 C267.17,411.11 267.33,411.39 267.50,411.63 C267.67,411.88 267.83,412.10 268.00,412.30 C268.17,412.50 268.33,412.68 268.50,412.83 C268.67,412.98 268.83,413.12 269.00,413.23 C269.17,413.34 269.33,413.45 269.50,413.52 C269.67,413.60 269.83,413.67 270.00,413.71 C270.17,413.75 270.33,413.79 270.50,413.79 C270.67,413.79 270.83,413.79 271.00,413.78 C271.17,413.78 271.33,413.73 271.50,413.69 C271.67,413.64 271.83,413.57 272.00,413.49 C272.17,413.42 272.33,413.32 272.50,413.20 C272.67,413.09 272.83,412.95 273.00,412.80 C273.17,412.65 273.33,412.48 273.50,412.29 C273.67,412.09 273.83,411.88 274.00,411.64 C274.17,411.40 274.33,411.13 274.50,410.85 C274.67,410.56 274.83,410.24 275.00,409.90 C275.17,409.56 275.33,409.19 275.50,408.79 C275.67,408.39 275.83,407.96 276.00,407.51 C276.17,407.05 276.33,406.56 276.50,406.04 C276.67,405.53 276.83,404.98 277.00,404.40 C277.17,403.83 277.33,403.22 277.50,402.59 C277.67,401.96 277.83,401.29 278.00,400.61 C278.17,399.92 278.33,399.20 278.50,398.47 C278.67,397.74 278.83,396.98 279.00,396.20 C279.17,395.43 279.33,394.63 279.50,393.83 C279.67,393.02 279.83,392.20 280.00,391.37 C280.17,390.55 280.33,389.71 280.50,388.88 C280.67,388.04 280.83,387.20 281.00,386.37 C281.17,385.55 281.33,384.72 281.50,383.91 C281.67,383.10 281.83,382.30 282.00,381.52 C282.17,380.75 282.33,379.98 282.50,379.26 C282.67,378.53 282.83,377.82 283.00,377.16 C283.17,376.50 283.33,375.85 283.50,375.27 C283.67,374.68 283.83,374.12 284.00,373.62 C284.17,373.12 284.33,372.65 284.50,372.25 C284.67,371.85 284.83,371.48 285.00,371.19 C285.17,370.90 285.33,370.62 285.50,370.45 C285.67,370.28 285.83,370.08 286.00,370.06 C286.17,370.04 286.33,370.03 286.50,370.03 C286.67,370.03 286.83,370.23 287.00,370.40 C287.17,370.56 287.33,370.85 287.50,371.15 C287.67,371.46 287.83,371.86 288.00,372.29 C288.17,372.72 288.33,373.23 288.50,373.77 C288.67,374.31 288.83,374.93 289.00,375.57 C289.17,376.21 289.33,376.91 289.50,377.63 C289.67,378.36 289.83,379.13 290.00,379.92 C290.17,380.71 290.33,381.54 290.50,382.38 C290.67,383.22 290.83,384.09 291.00,384.96 C291.17,385.83 291.33,386.72 291.50,387.60 C291.67,388.49 291.83,389.38 292.00,390.26 C292.17,391.14 292.33,392.02 292.50,392.88 C292.67,393.74 292.83,394.59 293.00,395.42 C293.17,396.25 293.33,397.06 293.50,397.85 C293.67,398.63 293.83,399.39 294.00,400.12 C294.17,400.85 294.33,401.56 294.50,402.22 C294.67,402.89 294.83,403.53 295.00,404.14 C295.17,404.74 295.33,405.31 295.50,405.85 C295.67,406.38 295.83,406.89 296.00,407.35 C296.17,407.82 296.33,408.26 296.50,408.66 C296.67,409.06 296.83,409.43 297.00,409.77 C297.17,410.11 297.33,410.42 297.50,410.70 C297.67,410.97 297.83,411.23 298.00,411.45 C298.17,411.68 298.33,411.88 298.50,412.05 C298.67,412.23 298.83,412.39 299.00,412.51 C299.17,412.64 299.33,412.76 299.50,412.85 C299.67,412.94 299.83,413.02 300.00,413.07 C300.17,413.12 300.33,413.17 300.50,413.18 C300.67,413.19 300.83,413.19 301.00,413.19 C301.17,413.19 301.33,413.15 301.50,413.11 C301.67,413.08 301.83,413.01 302.00,412.94 C302.17,412.87 302.33,412.78 302.50,412.68 C302.67,412.57 302.83,412.45 303.00,412.31 C303.17,412.17 303.33,412.00 303.50,411.82 C303.67,411.64 303.83,411.43 304.00,411.21 C304.17,410.98 304.33,410.73 304.50,410.46 C304.67,410.18 304.83,409.88 305.00,409.55 C305.17,409.23 305.33,408.87 305.50,408.49 C305.67,408.11 305.83,407.70 306.00,407.26 C306.17,406.82 306.33,406.35 306.50,405.85 C306.67,405.36 306.83,404.83 307.00,404.27 C307.17,403.71 307.33,403.13 307.50,402.51 C307.67,401.90 307.83,401.26 308.00,400.59 C308.17,399.92 308.33,399.23 308.50,398.51 C308.67,397.80 308.83,397.06 309.00,396.30 C309.17,395.54 309.33,394.76 309.50,393.98 C309.67,393.19 309.83,392.38 310.00,391.57 C310.17,390.76 310.33,389.93 310.50,389.11 C310.67,388.29 310.83,387.46 311.00,386.64 C311.17,385.82 311.33,385.00 311.50,384.20 C311.67,383.40 311.83,382.60 312.00,381.83 C312.17,381.06 312.33,380.29 312.50,379.57 C312.67,378.84 312.83,378.13 313.00,377.46 C313.17,376.79 313.33,376.15 313.50,375.55 C313.67,374.95 313.83,374.38 314.00,373.87 C314.17,373.36 314.33,372.88 314.50,372.47 C314.67,372.05 314.83,371.66 315.00,371.35 C315.17,371.05 315.33,370.76 315.50,370.56 C315.67,370.37 315.83,370.17 316.00,370.11 C316.17,370.06 316.33,370.01 316.50,370.01 C316.67,370.01 316.83,370.16 317.00,370.29 C317.17,370.42 317.33,370.69 317.50,370.96 C317.67,371.23 317.83,371.61 318.00,372.01 C318.17,372.40 318.33,372.89 318.50,373.40 C318.67,373.92 318.83,374.50 319.00,375.12 C319.17,375.73 319.33,376.41 319.50,377.11 C319.67,377.81 319.83,378.56 320.00,379.33 C320.17,380.10 320.33,380.92 320.50,381.74 C320.67,382.56 320.83,383.42 321.00,384.27 C321.17,385.13 321.33,386.01 321.50,386.89 C321.67,387.76 321.83,388.65 322.00,389.52 C322.17,390.40 322.33,391.28 322.50,392.14 C322.67,393.00 322.83,393.86 323.00,394.69 C323.17,395.53 323.33,396.35 323.50,397.14 C323.67,397.93 323.83,398.71 324.00,399.45 C324.17,400.19 324.33,400.91 324.50,401.59 C324.67,402.27 324.83,402.93 325.00,403.55 C325.17,404.17 325.33,404.76 325.50,405.31 C325.67,405.87 325.83,406.39 326.00,406.88 C326.17,407.36 326.33,407.82 326.50,408.24 C326.67,408.66 326.83,409.05 327.00,409.41 C327.17,409.76 327.33,410.09 327.50,410.39 C327.67,410.69 327.83,410.96 328.00,411.20 C328.17,411.44 328.33,411.63 328.50,411.85" fill="none" stroke="#2e5b88" stroke-width="2" stroke-linejoin="round"/>
<path d="M81.00,428.40 L81.21,428.08 L81.41,427.77 L81.62,427.45 L81.82,427.14 L82.03,426.82 L82.24,426.51 L82.44,426.19 L82.65,425.88 L82.85,425.56 L83.06,425.24 L83.26,424.93 L83.47,424.61 L83.68,424.29 L83.88,423.97 L84.09,423.65 L84.29,423.33 L84.50,423.00 L84.71,422.67 L84.91,422.35 L84.97,422.26 M86.03,420.57 L86.15,420.37 L86.35,420.04 L86.56,419.70 L86.76,419.37 L86.97,419.03 L87.18,418.69 L87.38,418.34 L87.59,418.00 L87.79,417.65 L88.00,417.30 L88.21,416.94 L88.41,416.58 L88.62,416.22 L88.82,415.85 L89.03,415.48 L89.24,415.10 L89.44,414.72 L89.65,414.35 L89.75,414.16 M90.71,412.41 L90.88,412.09 L91.09,411.72 L91.29,411.36 L91.50,411.00 L91.71,410.64 L91.91,410.29 L92.12,409.93 L92.32,409.58 L92.53,409.22 L92.74,408.87 L92.94,408.52 L93.15,408.17 L93.35,407.82 L93.56,407.48 L93.76,407.14 L93.97,406.80 L94.18,406.47 L94.38,406.14 L94.58,405.84 M95.69,404.18 L95.82,404.00 L96.03,403.70 L96.24,403.41 L96.44,403.12 L96.65,402.84 L96.85,402.56 L97.06,402.28 L97.26,402.01 L97.47,401.75 L97.68,401.49 L97.88,401.23 L98.09,400.98 L98.29,400.74 L98.50,400.50 L98.71,400.26 L98.92,400.03 L99.12,399.79 L99.33,399.56 L99.54,399.34 L99.75,399.12 L99.96,398.91 L100.17,398.70 L100.24,398.64 M101.80,397.39 L101.84,397.36 L102.05,397.21 L102.26,397.08 L102.47,396.96 L102.68,396.88 L102.89,396.82 L103.10,396.80 L103.30,396.80 L103.50,396.81 L103.70,396.81 L103.90,396.83 L104.10,396.84 L104.30,396.86 L104.50,396.87 L104.70,396.90 L104.90,396.92 L105.10,396.94 L105.30,396.97 L105.50,397.00 L105.71,397.05 L105.92,397.12 L106.12,397.23 L106.33,397.35 L106.54,397.50 L106.75,397.66 L106.96,397.83 L107.17,398.02 L107.38,398.21 L107.48,398.31 M108.87,399.75 L109.04,399.97 L109.25,400.24 L109.46,400.53 L109.67,400.81 L109.88,401.11 L110.08,401.40 L110.29,401.70 L110.50,402.00 L110.71,402.30 L110.92,402.62 L111.12,402.94 L111.33,403.27 L111.54,403.60 L111.75,403.94 L111.96,404.29 L112.17,404.63 L112.38,404.98 L112.58,405.32 L112.73,405.56 M113.76,407.27 L113.86,407.44 L114.08,407.81 L114.29,408.18 L114.51,408.54 L114.72,408.90 L114.94,409.25 L115.15,409.58 L115.37,409.91 L115.58,410.21 L115.80,410.50 L116.01,410.77 L116.22,411.05 L116.42,411.33 L116.63,411.60 L116.84,411.87 L117.05,412.13 L117.26,412.37 L117.47,412.59 L117.67,412.79 L117.88,412.96 L118.09,413.10 L118.27,413.19 M120.18,413.79 L120.37,413.83 L120.58,413.86 L120.79,413.88 L120.99,413.90 L121.20,413.90 L121.41,413.88 L121.62,413.82 L121.83,413.73 L122.04,413.61 L122.25,413.46 L122.45,413.30 L122.66,413.11 L122.87,412.92 L123.08,412.72 L123.29,412.51 L123.50,412.30 L123.71,412.08 L123.92,411.82 L124.12,411.53 L124.33,411.22 L124.51,410.93 M125.45,409.16 L125.58,408.88 L125.79,408.44 L126.00,408.00 L126.20,407.56 L126.40,407.08 L126.60,406.57 L126.80,406.04 L127.00,405.48 L127.20,404.91 L127.40,404.32 L127.60,403.72 L127.80,403.10 L128.00,402.48 L128.20,401.86 L128.25,401.71 M128.86,399.81 L129.01,399.34 L129.23,398.67 L129.44,397.98 L129.65,397.28 L129.87,396.58 L130.08,395.86 L130.29,395.14 L130.51,394.42 L130.72,393.70 L130.93,392.99 L131.15,392.27 L131.36,391.56 L131.57,390.89 M132.16,388.98 L132.21,388.85 L132.41,388.20 L132.62,387.55 L132.82,386.90 L133.03,386.26 L133.24,385.61 L133.44,384.97 L133.65,384.33 L133.85,383.70 L134.06,383.08 L134.26,382.46 L134.47,381.85 L134.68,381.26 L134.88,380.67 L135.08,380.12 M135.80,378.25 L135.90,377.99 L136.10,377.50 L136.30,377.03 L136.50,376.56 L136.70,376.10 L136.90,375.66 L137.10,375.21 L137.30,374.77 L137.50,374.33 L137.70,373.90 L137.90,373.46 L138.10,373.03 L138.30,372.59 L138.50,372.14 L138.70,371.69 L138.90,371.24 L139.10,370.77 L139.22,370.50 M139.97,368.65 L140.12,368.26 L140.33,367.74 L140.53,367.21 L140.74,366.67 L140.94,366.14 L141.15,365.61 L141.36,365.08 L141.56,364.54 L141.77,364.02 L141.97,363.50 L142.18,362.98 L142.38,362.47 L142.59,361.97 L142.79,361.48 L143.00,361.00 L143.13,360.70 M143.95,358.88 L144.00,358.76 L144.20,358.33 L144.40,357.90 L144.60,357.47 L144.80,357.05 L145.00,356.63 L145.20,356.21 L145.40,355.79 L145.60,355.38 L145.80,354.97 L146.00,354.55 L146.20,354.14 L146.40,353.73 L146.60,353.32 L146.80,352.91 L147.00,352.50 L147.21,352.07 L147.41,351.64 L147.45,351.56 M148.30,349.76 L148.44,349.47 L148.65,349.03 L148.85,348.61 L149.06,348.19 L149.26,347.77 L149.47,347.37 L149.68,346.97 L149.88,346.58 L150.09,346.21 L150.29,345.85 L150.50,345.50 L150.70,345.18 L150.90,344.86 L151.10,344.55 L151.30,344.25 L151.50,343.96 L151.70,343.67 L151.90,343.39 L152.10,343.12 L152.30,342.84 M153.51,341.25 L153.70,341.00 L153.90,340.73 L154.10,340.47 L154.30,340.20 L154.51,339.91 L154.73,339.62 L154.94,339.32 L155.15,339.02 L155.37,338.72 L155.58,338.43 L155.79,338.13 L156.01,337.84 L156.22,337.55 L156.43,337.27 L156.65,337.00 L156.86,336.73 L157.07,336.48 L157.29,336.23 L157.50,336.00 L157.70,335.79 L157.80,335.68 M159.23,334.28 L159.30,334.22 L159.50,334.05 L159.70,333.88 L159.90,333.73 L160.10,333.58 L160.30,333.43 L160.50,333.30 L160.70,333.17 L160.90,333.05 L161.10,332.93 L161.30,332.81 L161.50,332.70 L161.70,332.59 L161.90,332.48 L162.10,332.38 L162.30,332.28 L162.50,332.19 L162.70,332.10 L162.90,332.02 L163.10,331.94 L163.30,331.87 L163.50,331.80 L163.71,331.73 L163.91,331.66 L164.12,331.59 L164.33,331.52 L164.54,331.46 L164.74,331.39 L164.94,331.33 M166.92,331.11 L167.02,331.12 L167.23,331.13 L167.43,331.14 L167.64,331.16 L167.85,331.18 L168.05,331.21 L168.26,331.23 L168.47,331.26 L168.67,331.28 L168.88,331.31 L169.09,331.34 L169.29,331.37 L169.50,331.40 L169.71,331.43 L169.91,331.47 L170.12,331.52 L170.32,331.57 L170.53,331.62 L170.74,331.68 L170.94,331.74 L171.15,331.80 L171.35,331.87 L171.56,331.94 L171.76,332.00 L171.97,332.07 L172.18,332.14 L172.26,332.17 M174.16,332.78 L174.20,332.79 L174.40,332.86 L174.60,332.93 L174.80,333.00 L175.00,333.06 L175.20,333.13 L175.40,333.19 L175.60,333.26 L175.80,333.32 L176.00,333.37 L176.20,333.43 L176.40,333.48 L176.60,333.52 L176.80,333.56 L177.00,333.60 L177.20,333.63 L177.40,333.67 L177.60,333.70 L177.80,333.73 L178.00,333.76 L178.20,333.80 L178.40,333.83 L178.60,333.86 L178.80,333.89 L179.00,333.91 L179.20,333.94 L179.40,333.97 L179.60,333.99 L179.80,334.01 L179.83,334.01 M181.83,334.07 L182.02,334.03 L182.23,333.99 L182.43,333.93 L182.64,333.86 L182.85,333.78 L183.05,333.70 L183.26,333.60 L183.47,333.51 L183.67,333.41 L183.88,333.31 L184.09,333.20 L184.29,333.10 L184.50,333.00 L184.71,332.89 L184.91,332.78 L185.12,332.65 L185.32,332.51 L185.53,332.37 L185.74,332.21 L185.94,332.05 L186.15,331.88 L186.35,331.71 L186.56,331.53 L186.72,331.39 M188.18,330.02 L188.20,330.01 L188.40,329.80 L188.60,329.59 L188.80,329.37 L189.00,329.14 L189.20,328.91 L189.40,328.68 L189.60,328.44 L189.80,328.20 L190.00,327.96 L190.20,327.72 L190.40,327.49 L190.60,327.25 L190.80,327.02 L191.00,326.80 L191.20,326.58 L191.40,326.36 L191.60,326.13 L191.80,325.91 L192.00,325.68 L192.20,325.46 L192.40,325.24 L192.58,325.04 M193.98,323.61 L194.00,323.60 L194.20,323.42 L194.40,323.24 L194.60,323.07 L194.80,322.89 L195.00,322.72 L195.20,322.56 L195.40,322.39 L195.60,322.23 L195.80,322.08 L196.00,321.93 L196.20,321.79 L196.40,321.65 L196.60,321.52 L196.80,321.40 L197.01,321.28 L197.22,321.16 L197.42,321.06 L197.63,320.95 L197.84,320.85 L198.05,320.75 L198.25,320.66 L198.46,320.56 L198.67,320.47 L198.88,320.38 L199.08,320.29 L199.29,320.19 L199.46,320.12 M201.29,319.29 L201.38,319.25 L201.58,319.17 L201.79,319.08 L202.00,319.00 L202.20,318.92 L202.40,318.85 L202.60,318.78 L202.80,318.71 L203.00,318.64 L203.20,318.58 L203.40,318.51 L203.60,318.45 L203.80,318.38 L204.00,318.32 L204.20,318.26 L204.40,318.19 L204.60,318.13 L204.80,318.07 L205.00,318.00 L205.20,317.93 L205.40,317.87 L205.60,317.80 L205.80,317.73 L206.00,317.67 L206.20,317.60 L206.40,317.54 L206.60,317.47 L206.80,317.40 L206.89,317.37 M208.79,316.76 L208.80,316.76 L209.00,316.70 L209.20,316.64 L209.40,316.58 L209.60,316.52 L209.80,316.46 L210.00,316.40 L210.20,316.34 L210.40,316.28 L210.60,316.22 L210.80,316.17 L211.00,316.11 L211.20,316.05 L211.40,315.99 L211.60,315.94 L211.80,315.88 L212.00,315.82 L212.20,315.77 L212.40,315.71 L212.60,315.66 L212.80,315.61 L213.00,315.55 L213.20,315.50 L213.40,315.45 L213.60,315.40 L213.80,315.35 L214.00,315.30 L214.20,315.25 L214.36,315.21 M216.31,314.78 L216.40,314.76 L216.60,314.71 L216.80,314.67 L217.00,314.63 L217.20,314.59 L217.40,314.55 L217.60,314.51 L217.80,314.46 L218.00,314.42 L218.20,314.38 L218.40,314.34 L218.60,314.30 L218.80,314.26 L219.00,314.21 L219.20,314.17 L219.40,314.13 L219.60,314.09 L219.80,314.04 L220.00,314.00 L220.20,313.96 L220.40,313.91 L220.60,313.87 L220.80,313.82 L221.00,313.78 L221.20,313.73 L221.40,313.68 L221.60,313.64 L221.80,313.59 L221.85,313.58 M223.80,313.14 L223.80,313.14 L224.00,313.10 L224.20,313.06 L224.40,313.02 L224.60,312.98 L224.80,312.94 L225.00,312.90 L225.20,312.86 L225.40,312.83 L225.60,312.79 L225.80,312.75 L226.00,312.72 L226.20,312.68 L226.40,312.64 L226.60,312.61 L226.80,312.57 L227.00,312.54 L227.20,312.51 L227.40,312.47 L227.60,312.44 L227.80,312.41 L228.00,312.37 L228.20,312.34 L228.40,312.31 L228.60,312.28 L228.80,312.25 L229.00,312.23 L229.20,312.20 L229.38,312.18 M231.37,311.94 L231.40,311.94 L231.60,311.91 L231.80,311.89 L232.00,311.87 L232.20,311.84 L232.40,311.82 L232.60,311.80 L232.80,311.77 L233.00,311.75 L233.20,311.73 L233.40,311.71 L233.60,311.69 L233.80,311.67 L234.00,311.65 L234.20,311.63 L234.40,311.62 L234.60,311.60 L234.80,311.59 L235.00,311.57 L235.20,311.56 L235.40,311.55 L235.60,311.54 L235.80,311.53 L236.00,311.52 L236.20,311.51 L236.40,311.51 L236.60,311.50 L236.80,311.50 L236.89,311.50 M238.89,311.50 L239.00,311.50 L239.20,311.50 L239.40,311.50 L239.60,311.50 L239.80,311.50 L240.00,311.50 L240.20,311.50 L240.40,311.50 L240.60,311.50 L240.80,311.50 L241.00,311.50 L241.20,311.50 L241.40,311.50 L241.60,311.50 L241.80,311.50 L242.00,311.50 L242.20,311.50 L242.40,311.50 L242.60,311.50 L242.80,311.50 L243.00,311.50 L243.20,311.50 L243.40,311.50 L243.60,311.50 L243.80,311.50 L244.00,311.50 L244.20,311.50 L244.29,311.50 M246.29,311.43 L246.40,311.42 L246.60,311.40 L246.80,311.37 L247.00,311.35 L247.20,311.32 L247.40,311.29 L247.60,311.25 L247.80,311.22 L248.00,311.18 L248.20,311.15 L248.40,311.11 L248.60,311.07 L248.80,311.03 L249.00,310.99 L249.20,310.96 L249.40,310.92 L249.60,310.88 L249.80,310.84 L250.00,310.80 L250.20,310.76 L250.40,310.72 L250.60,310.67 L250.80,310.62 L251.00,310.57 L251.20,310.52 L251.40,310.46 L251.60,310.41 L251.71,310.37 M253.61,309.75 L253.80,309.69 L254.00,309.63 L254.20,309.56 L254.40,309.49 L254.60,309.43 L254.80,309.36 L255.00,309.30 L255.20,309.24 L255.40,309.17 L255.60,309.10 L255.80,309.04 L256.00,308.97 L256.20,308.90 L256.40,308.83 L256.60,308.75 L256.80,308.68 L257.00,308.61 L257.20,308.54 L257.40,308.48 L257.60,308.41 L257.80,308.34 L258.00,308.28 L258.20,308.22 L258.40,308.16 L258.60,308.10 L258.80,308.05 L259.00,308.00 L259.15,307.96 M261.09,307.51 L261.10,307.51 L261.31,307.47 L261.52,307.43 L261.73,307.39 L261.94,307.35 L262.15,307.32 L262.36,307.29 L262.57,307.26 L262.78,307.24 L262.99,307.22 L263.20,307.20 L263.40,307.19 L263.60,307.17 L263.80,307.16 L264.00,307.15 L264.20,307.13 L264.40,307.12 L264.60,307.11 L264.80,307.10 L265.00,307.09 L265.20,307.08 L265.40,307.07 L265.60,307.06 L265.80,307.05 L266.00,307.04 L266.20,307.03 L266.40,307.03 L266.60,307.02 L266.72,307.02 M268.72,307.01 L268.82,307.01 L269.03,307.02 L269.23,307.03 L269.44,307.04 L269.65,307.05 L269.85,307.07 L270.06,307.08 L270.26,307.09 L270.47,307.11 L270.67,307.12 L270.88,307.14 L271.09,307.16 L271.29,307.17 L271.50,307.19 L271.70,307.21 L271.91,307.23 L272.11,307.24 L272.32,307.26 L272.53,307.28 L272.73,307.29 L272.94,307.31 L273.14,307.32 L273.35,307.33 L273.55,307.35 L273.76,307.36 L273.97,307.37 L274.15,307.38 M276.15,307.39 L276.20,307.39 L276.40,307.38 L276.60,307.37 L276.80,307.36 L277.00,307.36 L277.20,307.35 L277.40,307.34 L277.60,307.33 L277.80,307.31 L278.00,307.30 L278.20,307.29 L278.40,307.28 L278.60,307.26 L278.80,307.25 L279.00,307.23 L279.20,307.22 L279.40,307.20 L279.60,307.19 L279.80,307.17 L280.00,307.16 L280.20,307.14 L280.40,307.12 L280.60,307.11 L280.80,307.09 L281.00,307.08 L281.20,307.06 L281.40,307.04 L281.57,307.03 M283.56,306.85 L283.62,306.84 L283.82,306.82 L284.02,306.80 L284.23,306.77 L284.43,306.75 L284.63,306.72 L284.83,306.69 L285.04,306.67 L285.24,306.64 L285.44,306.62 L285.64,306.59 L285.85,306.56 L286.05,306.54 L286.25,306.51 L286.45,306.49 L286.66,306.46 L286.86,306.44 L287.06,306.41 L287.26,306.39 L287.47,306.37 L287.67,306.35 L287.87,306.33 L288.07,306.31 L288.28,306.29 L288.48,306.28 L288.68,306.26 L288.88,306.25 L289.07,306.24 M291.07,306.21 L291.11,306.21 L291.31,306.21 L291.52,306.21 L291.72,306.22 L291.92,306.22 L292.12,306.23 L292.33,306.24 L292.53,306.25 L292.73,306.25 L292.93,306.26 L293.14,306.27 L293.34,306.28 L293.54,306.29 L293.74,306.30 L293.95,306.31 L294.15,306.32 L294.35,306.34 L294.56,306.35 L294.76,306.36 L294.96,306.38 L295.16,306.39 L295.37,306.40 L295.57,306.42 L295.77,306.43 L295.97,306.45 L296.18,306.46 L296.38,306.48 L296.48,306.48 M298.47,306.64 L298.60,306.66 L298.80,306.68 L299.00,306.71 L299.20,306.73 L299.40,306.76 L299.60,306.79 L299.80,306.82 L300.00,306.85 L300.20,306.89 L300.40,306.92 L300.60,306.95 L300.80,306.99 L301.00,307.02 L301.20,307.05 L301.40,307.08 L301.60,307.12 L301.80,307.15 L302.00,307.18 L302.20,307.20 L302.40,307.23 L302.60,307.26 L302.80,307.28 L303.00,307.30 L303.20,307.32 L303.40,307.34 L303.60,307.36 L303.80,307.38 L303.96,307.40 M305.95,307.58 L306.00,307.58 L306.20,307.59 L306.40,307.59 L306.60,307.60 L306.80,307.60 L307.01,307.60 L307.22,307.59 L307.43,307.58 L307.64,307.56 L307.85,307.55 L308.06,307.52 L308.27,307.50 L308.48,307.47 L308.69,307.44 L308.90,307.40 L309.11,307.37 L309.32,307.33 L309.53,307.29 L309.74,307.25 L309.95,307.21 L310.16,307.17 L310.37,307.13 L310.58,307.08 L310.79,307.04 L311.00,307.00 L311.20,306.96 L311.35,306.92 M313.23,306.25 L313.25,306.24 L313.45,306.16 L313.66,306.08 L313.86,306.00 L314.07,305.92 L314.27,305.84 L314.48,305.77 L314.68,305.71 L314.89,305.65 L315.09,305.59 L315.30,305.54 L315.50,305.50 L315.70,305.46 L315.90,305.43 L316.10,305.39 L316.30,305.35 L316.50,305.32 L316.70,305.28 L316.90,305.25 L317.10,305.21 L317.30,305.18 L317.50,305.15 L317.70,305.12 L317.90,305.09 L318.10,305.06 L318.30,305.04 L318.50,305.01 L318.70,304.99 L318.90,304.97 L318.96,304.97 M320.96,304.91 L321.14,304.91 L321.35,304.92 L321.56,304.92 L321.77,304.93 L321.98,304.94 L322.19,304.95 L322.40,304.96 L322.61,304.98 L322.82,304.99 L323.03,305.00 L323.24,305.01 L323.45,305.03 L323.66,305.04 L323.87,305.06 L324.08,305.07 L324.29,305.09 L324.50,305.10 L324.70,305.11 L324.90,305.13 L325.10,305.15 L325.30,305.17 L325.50,305.19 L325.70,305.22 L325.90,305.24 L326.10,305.27 L326.30,305.29 L326.37,305.30 M328.35,305.58 L328.50,305.60" fill="none" stroke="#79cb3b" stroke-width="1.75"/>
<rect x="71.5" y="300.0" width="266.5" height="133.5" fill="none" stroke="#444" stroke-width="1"/>
<text class="k" x="10.3" y="299.6" font-size="16" text-anchor="start" font-weight="bold" fill="#000">c</text>
<text class="k" x="33.0" y="360.5" font-size="13.5" text-anchor="middle" font-weight="normal" fill="#000" transform="rotate(-90 33.0 360.5)">Circular variance</text>
<text class="k" x="386.1" y="359.5" font-size="13.5" text-anchor="middle" font-weight="normal" fill="#000" transform="rotate(-90 386.1 359.5)">Wavelet power</text>
<text class="k" x="204.6" y="472.4" font-size="13.5" text-anchor="middle" font-weight="normal" fill="#000">Day</text>
<line x1="479.5" y1="428.6" x2="485.5" y2="428.6" stroke="#444" stroke-width="1"/>
<line x1="479.5" y1="366.6" x2="485.5" y2="366.6" stroke="#444" stroke-width="1"/>
<line x1="479.5" y1="304.6" x2="485.5" y2="304.6" stroke="#444" stroke-width="1"/>
<text class="k" x="474.0" y="432.8" font-size="10.5" text-anchor="end" font-weight="normal" fill="#000">0.0</text>
<text class="k" x="474.0" y="370.8" font-size="10.5" text-anchor="end" font-weight="normal" fill="#000">0.5</text>
<text class="k" x="474.0" y="308.8" font-size="10.5" text-anchor="end" font-weight="normal" fill="#000">1.0</text>
<line x1="752.5" y1="428.6" x2="758.5" y2="428.6" stroke="#444" stroke-width="1"/>
<line x1="752.5" y1="409.75" x2="758.5" y2="409.75" stroke="#444" stroke-width="1"/>
<line x1="752.5" y1="390.90000000000003" x2="758.5" y2="390.90000000000003" stroke="#444" stroke-width="1"/>
<line x1="752.5" y1="372.05" x2="758.5" y2="372.05" stroke="#444" stroke-width="1"/>
<line x1="752.5" y1="353.20000000000005" x2="758.5" y2="353.20000000000005" stroke="#444" stroke-width="1"/>
<line x1="752.5" y1="334.35" x2="758.5" y2="334.35" stroke="#444" stroke-width="1"/>
<line x1="752.5" y1="315.5" x2="758.5" y2="315.5" stroke="#444" stroke-width="1"/>
<text class="k" x="766.5" y="432.6" font-size="10.5" text-anchor="start" font-weight="normal" fill="#000">0.0</text>
<text class="k" x="766.5" y="394.90000000000003" font-size="10.5" text-anchor="start" font-weight="normal" fill="#000">0.2</text>
<text class="k" x="766.5" y="357.20000000000005" font-size="10.5" text-anchor="start" font-weight="normal" fill="#000">0.4</text>
<text class="k" x="766.5" y="319.5" font-size="10.5" text-anchor="start" font-weight="normal" fill="#000">0.6</text>
<line x1="495.4" y1="433.5" x2="495.4" y2="439.5" stroke="#444" stroke-width="1"/>
<line x1="530.6859999999999" y1="433.5" x2="530.6859999999999" y2="439.5" stroke="#444" stroke-width="1"/>
<line x1="565.972" y1="433.5" x2="565.972" y2="439.5" stroke="#444" stroke-width="1"/>
<line x1="601.258" y1="433.5" x2="601.258" y2="439.5" stroke="#444" stroke-width="1"/>
<line x1="636.544" y1="433.5" x2="636.544" y2="439.5" stroke="#444" stroke-width="1"/>
<line x1="671.8299999999999" y1="433.5" x2="671.8299999999999" y2="439.5" stroke="#444" stroke-width="1"/>
<line x1="707.116" y1="433.5" x2="707.116" y2="439.5" stroke="#444" stroke-width="1"/>
<line x1="742.402" y1="433.5" x2="742.402" y2="439.5" stroke="#444" stroke-width="1"/>
<text class="k" x="495.2" y="454.3" font-size="10.5" text-anchor="middle" font-weight="normal" fill="#000">0</text>
<text class="k" x="530.4859999999999" y="454.3" font-size="10.5" text-anchor="middle" font-weight="normal" fill="#000">100</text>
<text class="k" x="565.7719999999999" y="454.3" font-size="10.5" text-anchor="middle" font-weight="normal" fill="#000">200</text>
<text class="k" x="601.058" y="454.3" font-size="10.5" text-anchor="middle" font-weight="normal" fill="#000">300</text>
<text class="k" x="636.3439999999999" y="454.3" font-size="10.5" text-anchor="middle" font-weight="normal" fill="#000">400</text>
<text class="k" x="671.6299999999999" y="454.3" font-size="10.5" text-anchor="middle" font-weight="normal" fill="#000">500</text>
<text class="k" x="706.9159999999999" y="454.3" font-size="10.5" text-anchor="middle" font-weight="normal" fill="#000">600</text>
<text class="k" x="742.202" y="454.3" font-size="10.5" text-anchor="middle" font-weight="normal" fill="#000">700</text>
<path d="M495.40,416.30 C496.00,415.80 496.60,415.52 497.20,414.80 C497.73,414.16 498.27,412.15 498.80,411.50 C499.30,410.89 499.80,410.20 500.30,410.20 C500.70,410.20 501.10,411.49 501.50,412.50 C501.87,413.42 502.23,415.66 502.60,416.50 C503.00,417.42 503.40,418.39 503.80,418.50 C504.53,418.70 505.27,418.80 506.00,418.80 C506.83,418.80 507.67,418.55 508.50,418.30 C509.33,418.05 510.17,417.44 511.00,416.80 C511.53,416.39 512.07,416.09 512.60,415.20 C513.00,414.53 513.40,412.27 513.80,410.00 C514.13,408.11 514.47,404.39 514.80,402.00 C515.13,399.61 515.47,397.10 515.80,395.50 C516.20,393.58 516.60,391.78 517.00,391.00 C517.43,390.15 517.87,389.30 518.30,389.30 C518.73,389.30 519.17,389.40 519.60,389.40 C520.07,389.40 520.53,388.62 521.00,388.00 C521.47,387.38 521.93,385.75 522.40,385.20 C522.83,384.69 523.27,384.10 523.70,384.10 C524.13,384.10 524.57,385.77 525.00,387.00 C525.50,388.42 526.00,391.30 526.50,393.00 C527.07,394.93 527.63,397.26 528.20,398.00 C528.80,398.78 529.40,399.50 530.00,399.50 C530.60,399.50 531.20,398.55 531.80,397.60 C532.43,396.59 533.07,393.99 533.70,391.40 C534.33,388.81 534.97,384.43 535.60,381.00 C536.27,377.39 536.93,373.31 537.60,370.30 C538.13,367.89 538.67,365.19 539.20,364.00 C539.67,362.96 540.13,361.80 540.60,361.80 C541.20,361.80 541.80,362.18 542.40,362.30 C543.00,362.43 543.60,362.60 544.20,362.60 C544.87,362.60 545.53,359.66 546.20,358.60 C546.83,357.60 547.47,356.10 548.10,356.10 C548.73,356.10 549.37,358.11 550.00,359.80 C550.40,360.87 550.80,363.51 551.20,364.50 C551.57,365.41 551.93,366.50 552.30,366.50 C552.80,366.50 553.30,365.00 553.80,364.00 C554.27,363.06 554.73,361.85 555.20,360.50 C555.73,358.96 556.27,356.99 556.80,355.00 C557.33,353.01 557.87,350.51 558.40,348.50 C558.90,346.61 559.40,344.83 559.90,343.20 C560.53,341.14 561.17,338.80 561.80,337.50 C562.47,336.13 563.13,334.40 563.80,334.40 C564.47,334.40 565.13,335.56 565.80,336.30 C566.33,336.89 566.87,338.40 567.40,338.40 C567.80,338.40 568.20,338.36 568.60,338.30 C569.13,338.22 569.67,335.04 570.20,333.50 C570.77,331.87 571.33,329.68 571.90,328.80 C572.70,327.56 573.50,326.49 574.30,326.30 C575.30,326.06 576.30,326.01 577.30,325.90 C578.30,325.79 579.30,325.77 580.30,325.60 C581.10,325.47 581.90,325.06 582.70,324.60 C583.43,324.18 584.17,323.44 584.90,322.60 C585.57,321.83 586.23,320.38 586.90,319.50 C587.53,318.66 588.17,317.30 588.80,317.30 C589.40,317.30 590.00,317.53 590.60,317.70 C591.20,317.87 591.80,318.40 592.40,318.40 C593.13,318.40 593.87,317.12 594.60,316.50 C595.37,315.85 596.13,315.18 596.90,314.60 C597.67,314.02 598.43,313.26 599.20,313.00 C599.93,312.75 600.67,312.50 601.40,312.50 C602.13,312.50 602.87,313.16 603.60,313.30 C604.37,313.45 605.13,313.60 605.90,313.60 C606.93,313.60 607.97,311.80 609.00,311.20 C610.30,310.44 611.60,309.50 612.90,309.40 C614.60,309.27 616.30,309.20 618.00,309.20 C619.50,309.20 621.00,309.90 622.50,309.90 C623.67,309.90 624.83,309.13 626.00,308.80 C627.33,308.43 628.67,308.11 630.00,307.80 C632.00,307.33 634.00,306.50 636.00,306.50 C638.00,306.50 640.00,307.30 642.00,307.30 C644.00,307.30 646.00,307.21 648.00,307.10 C650.00,306.99 652.00,306.20 654.00,306.00 C656.00,305.80 658.00,305.60 660.00,305.60 C662.00,305.60 664.00,306.14 666.00,306.20 C668.00,306.26 670.00,306.30 672.00,306.30 C674.67,306.30 677.33,306.11 680.00,306.00 C682.67,305.89 685.33,305.60 688.00,305.60 C690.67,305.60 693.33,305.90 696.00,305.90 C698.67,305.90 701.33,305.50 704.00,305.50 C706.67,305.50 709.33,305.70 712.00,305.70 C714.67,305.70 717.33,305.40 720.00,305.40 C722.67,305.40 725.33,305.80 728.00,305.80 C730.33,305.80 732.67,305.58 735.00,305.50 C737.47,305.42 739.93,305.37 742.40,305.30" fill="none" stroke="#2e5b88" stroke-width="2" stroke-linejoin="round"/>
<path d="M495.50,305.00 L495.71,305.05 L495.92,305.09 L496.12,305.13 L496.33,305.17 L496.54,305.22 L496.75,305.26 L496.96,305.30 L497.17,305.35 L497.38,305.40 L497.58,305.46 L497.79,305.53 L498.00,305.60 L498.20,305.69 L498.40,305.80 L498.60,305.93 L498.80,306.07 L499.00,306.24 L499.20,306.41 L499.40,306.60 L499.60,306.79 L499.62,306.81 M500.89,308.34 L501.00,308.51 L501.20,308.82 L501.40,309.13 L501.60,309.46 L501.80,309.78 L502.00,310.10 L502.20,310.42 L502.40,310.75 L502.60,311.09 L502.80,311.43 L503.00,311.78 L503.20,312.13 L503.40,312.49 L503.60,312.85 L503.80,313.22 L504.00,313.59 L504.20,313.96 L504.40,314.34 L504.43,314.41 M505.35,316.18 L505.41,316.31 L505.62,316.72 L505.83,317.13 L506.03,317.54 L506.24,317.96 L506.45,318.39 L506.65,318.82 L506.86,319.26 L507.07,319.71 L507.27,320.16 L507.48,320.63 L507.69,321.11 L507.89,321.60 L508.10,322.10 L508.31,322.62 L508.51,323.16 L508.60,323.40 M509.27,325.29 L509.34,325.49 L509.55,326.10 L509.76,326.72 L509.96,327.35 L510.17,327.98 L510.38,328.61 L510.59,329.24 L510.79,329.87 L511.00,330.50 L511.21,331.13 L511.41,331.77 L511.62,332.43 L511.83,333.10 L512.03,333.77 L512.24,334.45 L512.27,334.53 M512.85,336.44 L512.86,336.47 L513.07,337.13 L513.27,337.77 L513.48,338.41 L513.69,339.03 L513.89,339.63 L514.10,340.20 L514.31,340.76 L514.51,341.32 L514.72,341.86 L514.93,342.40 L515.14,342.93 L515.34,343.46 L515.55,343.97 L515.76,344.47 L515.96,344.96 L516.17,345.43 L516.38,345.90 L516.44,346.03 M517.32,347.82 L517.41,348.01 L517.62,348.40 L517.83,348.79 L518.03,349.16 L518.24,349.53 L518.45,349.89 L518.65,350.25 L518.86,350.59 L519.07,350.92 L519.27,351.24 L519.48,351.55 L519.69,351.84 L519.89,352.13 L520.10,352.40 L520.31,352.66 L520.51,352.92 L520.72,353.17 L520.92,353.41 L521.13,353.65 L521.33,353.88 L521.54,354.11 L521.70,354.28 M523.13,355.68 L523.18,355.73 L523.38,355.90 L523.59,356.08 L523.79,356.24 L524.00,356.40 L524.20,356.55 L524.40,356.70 L524.60,356.85 L524.80,357.00 L525.00,357.15 L525.20,357.29 L525.40,357.43 L525.60,357.56 L525.80,357.69 L526.00,357.82 L526.20,357.94 L526.40,358.05 L526.60,358.16 L526.80,358.26 L527.00,358.36 L527.20,358.45 L527.40,358.53 L527.60,358.60 L527.81,358.67 L528.02,358.74 L528.06,358.75 M529.99,359.26 L530.15,359.29 L530.36,359.32 L530.58,359.35 L530.79,359.38 L531.00,359.40 L531.20,359.42 L531.40,359.43 L531.60,359.45 L531.80,359.46 L532.00,359.48 L532.20,359.49 L532.40,359.50 L532.60,359.51 L532.80,359.53 L533.00,359.54 L533.20,359.55 L533.40,359.56 L533.60,359.57 L533.80,359.57 L534.00,359.58 L534.20,359.59 L534.40,359.59 L534.50,359.59 M536.49,359.47 L536.66,359.44 L536.87,359.40 L537.08,359.36 L537.29,359.31 L537.50,359.25 L537.70,359.20 L537.91,359.14 L538.12,359.09 L538.33,359.03 L538.54,358.97 L538.75,358.91 L538.96,358.86 L539.17,358.80 L539.37,358.75 L539.58,358.69 L539.79,358.65 L540.00,358.60 L540.20,358.56 L540.40,358.51 L540.60,358.46 L540.80,358.40 L540.92,358.37 M542.85,357.86 L543.00,357.83 L543.20,357.79 L543.40,357.76 L543.60,357.73 L543.80,357.72 L544.00,357.70 L544.20,357.70 L544.40,357.70 L544.61,357.70 L544.81,357.70 L545.02,357.70 L545.22,357.71 L545.43,357.71 L545.63,357.71 L545.84,357.72 L546.04,357.72 L546.25,357.73 L546.45,357.73 L546.66,357.74 L546.86,357.74 L547.07,357.75 L547.27,357.75 L547.40,357.76 M549.39,357.88 L549.52,357.90 L549.73,357.94 L549.93,357.97 L550.13,358.01 L550.34,358.06 L550.54,358.11 L550.75,358.16 L550.95,358.21 L551.16,358.26 L551.36,358.32 L551.57,358.38 L551.77,358.44 L551.97,358.50 L552.18,358.57 L552.38,358.63 L552.59,358.70 L552.79,358.77 L553.00,358.83 L553.20,358.90 L553.40,358.97 L553.61,359.05 L553.71,359.09 M555.49,359.99 L555.66,360.09 L555.86,360.21 L556.07,360.33 L556.27,360.45 L556.48,360.58 L556.68,360.70 L556.89,360.83 L557.09,360.95 L557.30,361.08 L557.50,361.20 L557.71,361.32 L557.92,361.45 L558.13,361.57 L558.33,361.70 L558.54,361.83 L558.75,361.96 L558.96,362.09 L559.17,362.22 L559.38,362.35 L559.59,362.49 L559.80,362.62 L560.00,362.76 L560.01,362.77 M561.65,363.91 L561.67,363.93 L561.88,364.08 L562.09,364.24 L562.30,364.40 L562.50,364.56 L562.71,364.72 L562.91,364.89 L563.12,365.06 L563.32,365.23 L563.53,365.41 L563.73,365.59 L563.94,365.77 L564.14,365.96 L564.35,366.14 L564.55,366.33 L564.75,366.52 L564.96,366.71 L565.16,366.91 L565.37,367.10 L565.57,367.30 L565.78,367.50 L565.87,367.59 M567.29,368.99 L567.41,369.11 L567.62,369.32 L567.82,369.53 L568.03,369.74 L568.23,369.96 L568.44,370.17 L568.64,370.39 L568.85,370.61 L569.05,370.83 L569.25,371.05 L569.46,371.27 L569.66,371.49 L569.87,371.72 L570.07,371.94 L570.28,372.17 L570.48,372.39 L570.69,372.62 L570.89,372.85 L571.10,373.07 L571.30,373.30 L571.45,373.47 M572.77,374.97 L572.94,375.16 L573.14,375.39 L573.35,375.63 L573.55,375.87 L573.75,376.11 L573.96,376.35 L574.16,376.58 L574.37,376.82 L574.57,377.06 L574.78,377.30 L574.98,377.54 L575.19,377.78 L575.39,378.02 L575.60,378.26 L575.80,378.50 L576.00,378.74 L576.21,378.98 L576.41,379.22 L576.62,379.46 L576.82,379.70 L576.92,379.82 M578.22,381.34 L578.25,381.39 L578.46,381.63 L578.66,381.87 L578.87,382.11 L579.07,382.35 L579.28,382.59 L579.48,382.84 L579.69,383.08 L579.89,383.32 L580.10,383.56 L580.30,383.80 L580.50,384.04 L580.70,384.27 L580.90,384.51 L581.10,384.74 L581.30,384.98 L581.50,385.21 L581.70,385.45 L581.90,385.68 L582.10,385.92 L582.30,386.15 L582.38,386.25 M583.68,387.77 L583.70,387.80 L583.90,388.03 L584.10,388.27 L584.30,388.50 L584.50,388.73 L584.70,388.97 L584.90,389.20 L585.10,389.44 L585.31,389.68 L585.51,389.92 L585.72,390.16 L585.92,390.40 L586.13,390.64 L586.33,390.88 L586.54,391.12 L586.74,391.36 L586.95,391.60 L587.15,391.84 L587.35,392.08 L587.56,392.31 L587.76,392.55 L587.84,392.65 M589.17,394.14 L589.20,394.17 L589.40,394.40 L589.60,394.62 L589.80,394.84 L590.00,395.05 L590.20,395.27 L590.40,395.48 L590.60,395.70 L590.80,395.91 L591.00,396.12 L591.20,396.33 L591.40,396.54 L591.60,396.75 L591.80,396.96 L592.00,397.17 L592.20,397.38 L592.40,397.58 L592.60,397.79 L592.80,397.99 L593.00,398.19 L593.20,398.40 L593.40,398.60 L593.50,398.70 M594.92,400.11 L595.05,400.23 L595.26,400.44 L595.47,400.64 L595.68,400.84 L595.89,401.05 L596.10,401.25 L596.30,401.45 L596.51,401.65 L596.72,401.85 L596.93,402.04 L597.14,402.24 L597.35,402.43 L597.56,402.63 L597.77,402.82 L597.98,403.02 L598.19,403.21 L598.40,403.40 L598.60,403.58 L598.80,403.76 L599.00,403.94 L599.20,404.13 L599.34,404.25 M600.83,405.58 L601.00,405.72 L601.20,405.90 L601.40,406.07 L601.60,406.24 L601.80,406.41 L602.00,406.58 L602.20,406.74 L602.40,406.91 L602.60,407.08 L602.80,407.24 L603.00,407.40 L603.21,407.57 L603.42,407.74 L603.63,407.90 L603.84,408.07 L604.05,408.24 L604.26,408.40 L604.47,408.57 L604.68,408.73 L604.89,408.89 L605.10,409.05 L605.30,409.21 L605.37,409.26 M606.99,410.42 L607.19,410.56 L607.40,410.70 L607.60,410.83 L607.80,410.96 L608.00,411.09 L608.20,411.22 L608.40,411.34 L608.60,411.47 L608.80,411.59 L609.00,411.71 L609.20,411.83 L609.40,411.95 L609.60,412.07 L609.80,412.19 L610.00,412.30 L610.20,412.42 L610.40,412.53 L610.60,412.65 L610.80,412.76 L611.00,412.87 L611.20,412.98 L611.40,413.08 L611.60,413.19 L611.68,413.23 M613.47,414.12 L613.64,414.20 L613.84,414.30 L614.05,414.39 L614.25,414.49 L614.45,414.58 L614.66,414.67 L614.86,414.76 L615.07,414.85 L615.27,414.95 L615.48,415.04 L615.68,415.13 L615.89,415.22 L616.09,415.31 L616.30,415.41 L616.50,415.50 L616.70,415.59 L616.91,415.69 L617.11,415.78 L617.31,415.88 L617.52,415.97 L617.72,416.06 L617.92,416.16 L618.09,416.24 M619.91,417.08 L619.95,417.11 L620.16,417.20 L620.36,417.29 L620.56,417.38 L620.77,417.47 L620.97,417.56 L621.17,417.65 L621.38,417.74 L621.58,417.83 L621.78,417.91 L621.98,418.00 L622.19,418.08 L622.39,418.16 L622.59,418.24 L622.80,418.32 L623.00,418.40 L623.20,418.48 L623.40,418.55 L623.60,418.62 L623.80,418.70 L624.00,418.77 L624.20,418.84 L624.40,418.91 L624.60,418.98 M626.50,419.61 L626.60,419.65 L626.80,419.71 L627.00,419.78 L627.20,419.84 L627.40,419.90 L627.60,419.96 L627.80,420.03 L628.00,420.09 L628.20,420.15 L628.40,420.21 L628.60,420.27 L628.80,420.33 L629.00,420.40 L629.20,420.46 L629.40,420.52 L629.60,420.58 L629.80,420.64 L630.00,420.70 L630.20,420.76 L630.40,420.82 L630.60,420.88 L630.80,420.94 L631.00,421.01 L631.09,421.03 M633.00,421.62 L633.20,421.68 L633.40,421.74 L633.60,421.80 L633.80,421.86 L634.00,421.92 L634.20,421.98 L634.40,422.04 L634.60,422.10 L634.80,422.15 L635.00,422.21 L635.20,422.27 L635.40,422.33 L635.60,422.39 L635.80,422.44 L636.00,422.50 L636.20,422.55 L636.40,422.61 L636.60,422.66 L636.80,422.72 L637.00,422.77 L637.20,422.83 L637.40,422.88 L637.59,422.93 M639.53,423.40 L639.60,423.41 L639.80,423.46 L640.00,423.50 L640.20,423.54 L640.40,423.59 L640.61,423.63 L640.81,423.67 L641.01,423.71 L641.21,423.75 L641.41,423.79 L641.61,423.83 L641.82,423.87 L642.02,423.91 L642.22,423.95 L642.42,423.99 L642.62,424.03 L642.83,424.07 L643.03,424.11 L643.23,424.15 L643.43,424.18 L643.63,424.22 L643.83,424.26 L644.04,424.30 L644.06,424.30 M646.03,424.64 L646.05,424.65 L646.26,424.68 L646.46,424.71 L646.66,424.75 L646.86,424.78 L647.06,424.81 L647.27,424.84 L647.47,424.87 L647.67,424.91 L647.87,424.94 L648.07,424.97 L648.27,425.00 L648.48,425.03 L648.68,425.06 L648.88,425.09 L649.08,425.12 L649.28,425.15 L649.49,425.18 L649.69,425.21 L649.89,425.23 L650.09,425.26 L650.29,425.29 L650.49,425.32 L650.50,425.32 M652.48,425.58 L652.51,425.59 L652.71,425.61 L652.91,425.64 L653.11,425.66 L653.32,425.69 L653.52,425.72 L653.72,425.74 L653.92,425.77 L654.12,425.79 L654.32,425.82 L654.52,425.84 L654.73,425.87 L654.93,425.89 L655.13,425.92 L655.33,425.94 L655.53,425.97 L655.73,425.99 L655.93,426.01 L656.14,426.04 L656.34,426.06 L656.54,426.09 L656.74,426.11 L656.89,426.13 M658.88,426.35 L658.96,426.36 L659.16,426.38 L659.36,426.40 L659.56,426.42 L659.76,426.44 L659.96,426.46 L660.17,426.48 L660.37,426.50 L660.57,426.52 L660.77,426.54 L660.97,426.56 L661.17,426.58 L661.37,426.60 L661.58,426.62 L661.78,426.64 L661.98,426.66 L662.18,426.67 L662.38,426.69 L662.58,426.71 L662.78,426.73 L662.99,426.74 L663.19,426.76 L663.26,426.77 M665.26,426.92 L665.40,426.93 L665.60,426.94 L665.80,426.96 L666.01,426.97 L666.21,426.98 L666.41,427.00 L666.61,427.01 L666.81,427.02 L667.01,427.04 L667.21,427.05 L667.41,427.06 L667.62,427.08 L667.82,427.09 L668.02,427.10 L668.22,427.12 L668.42,427.13 L668.62,427.14 L668.82,427.15 L669.02,427.17 L669.22,427.18 L669.43,427.19 L669.58,427.20 M671.58,427.31 L671.64,427.32 L671.84,427.33 L672.04,427.34 L672.24,427.35 L672.44,427.36 L672.64,427.37 L672.85,427.38 L673.05,427.39 L673.25,427.40 L673.45,427.41 L673.65,427.42 L673.85,427.43 L674.05,427.44 L674.25,427.45 L674.45,427.46 L674.66,427.47 L674.86,427.48 L675.06,427.49 L675.26,427.50 L675.46,427.51 L675.66,427.52 L675.86,427.53 L675.87,427.53 M677.87,427.62 L677.87,427.62 L678.08,427.63 L678.28,427.64 L678.48,427.65 L678.68,427.66 L678.88,427.67 L679.08,427.67 L679.28,427.68 L679.48,427.69 L679.68,427.70 L679.89,427.71 L680.09,427.72 L680.29,427.72 L680.49,427.73 L680.69,427.74 L680.89,427.75 L681.09,427.75 L681.29,427.76 L681.50,427.77 L681.70,427.78 L681.90,427.79 L682.10,427.79 L682.15,427.79 M684.15,427.87 L684.31,427.87 L684.51,427.88 L684.71,427.89 L684.91,427.89 L685.12,427.90 L685.32,427.91 L685.52,427.92 L685.72,427.92 L685.92,427.93 L686.12,427.94 L686.32,427.94 L686.52,427.95 L686.72,427.96 L686.93,427.96 L687.13,427.97 L687.33,427.98 L687.53,427.98 L687.73,427.99 L687.93,428.00 L688.13,428.00 L688.33,428.01 L688.41,428.01 M690.41,428.08 L690.55,428.08 L690.75,428.09 L690.95,428.09 L691.15,428.10 L691.35,428.10 L691.55,428.11 L691.75,428.12 L691.95,428.12 L692.16,428.13 L692.36,428.13 L692.56,428.14 L692.76,428.14 L692.96,428.15 L693.16,428.15 L693.36,428.16 L693.56,428.17 L693.76,428.17 L693.97,428.18 L694.17,428.18 L694.37,428.19 L694.57,428.19 L694.67,428.19 M696.67,428.24 L696.78,428.24 L696.98,428.25 L697.18,428.25 L697.39,428.25 L697.59,428.26 L697.79,428.26 L697.99,428.27 L698.19,428.27 L698.39,428.27 L698.59,428.28 L698.79,428.28 L698.99,428.28 L699.20,428.29 L699.40,428.29 L699.60,428.29 L699.80,428.30 L700.00,428.30 L700.20,428.30 L700.40,428.31 L700.60,428.31 L700.80,428.31 L700.91,428.31 M702.91,428.34 L703.00,428.34 L703.20,428.34 L703.40,428.35 L703.60,428.35 L703.80,428.35 L704.00,428.36 L704.20,428.36 L704.40,428.36 L704.60,428.36 L704.80,428.36 L705.00,428.37 L705.20,428.37 L705.40,428.37 L705.60,428.37 L705.80,428.38 L706.00,428.38 L706.20,428.38 L706.40,428.38 L706.60,428.39 L706.80,428.39 L707.00,428.39 L707.13,428.39 M709.13,428.41 L709.20,428.41 L709.40,428.42 L709.60,428.42 L709.80,428.42 L710.00,428.42 L710.20,428.42 L710.40,428.43 L710.60,428.43 L710.80,428.43 L711.00,428.43 L711.20,428.43 L711.40,428.43 L711.60,428.44 L711.80,428.44 L712.00,428.44 L712.20,428.44 L712.40,428.44 L712.60,428.45 L712.80,428.45 L713.00,428.45 L713.20,428.45 L713.35,428.45 M715.35,428.47 L715.40,428.47 L715.60,428.47 L715.80,428.47 L716.00,428.47 L716.20,428.47 L716.40,428.48 L716.60,428.48 L716.80,428.48 L717.00,428.48 L717.20,428.48 L717.40,428.48 L717.60,428.48 L717.80,428.49 L718.00,428.49 L718.20,428.49 L718.40,428.49 L718.60,428.49 L718.80,428.49 L719.00,428.49 L719.20,428.49 L719.40,428.50 L719.57,428.50 M721.57,428.51 L721.61,428.51 L721.82,428.51 L722.02,428.51 L722.22,428.51 L722.42,428.51 L722.62,428.52 L722.83,428.52 L723.03,428.52 L723.23,428.52 L723.43,428.52 L723.63,428.52 L723.83,428.52 L724.04,428.52 L724.24,428.52 L724.44,428.52 L724.64,428.53 L724.84,428.53 L725.05,428.53 L725.25,428.53 L725.45,428.53 L725.65,428.53 L725.78,428.53 M727.78,428.54 L727.87,428.54 L728.07,428.54 L728.27,428.54 L728.48,428.54 L728.68,428.54 L728.88,428.55 L729.08,428.55 L729.28,428.55 L729.48,428.55 L729.69,428.55 L729.89,428.55 L730.09,428.55 L730.29,428.55 L730.49,428.55 L730.70,428.55 L730.90,428.55 L731.10,428.55 L731.30,428.56 L731.50,428.56 L731.70,428.56 L731.91,428.56 L731.98,428.56 M733.98,428.57 L734.13,428.57 L734.33,428.57 L734.53,428.57 L734.73,428.57 L734.93,428.57 L735.14,428.57 L735.34,428.57 L735.54,428.57 L735.74,428.57 L735.94,428.57 L736.14,428.57 L736.35,428.58 L736.55,428.58 L736.75,428.58 L736.95,428.58 L737.15,428.58 L737.35,428.58 L737.56,428.58 L737.76,428.58 L737.96,428.58 L738.16,428.58 L738.19,428.58 M740.19,428.59 L740.38,428.59 L740.58,428.59 L740.79,428.59 L740.99,428.59 L741.19,428.59 L741.39,428.60 L741.59,428.60 L741.79,428.60 L742.00,428.60 L742.20,428.60 L742.40,428.60" fill="none" stroke="#79cb3b" stroke-width="1.75"/>
<rect x="485.5" y="300.0" width="267.0" height="133.5" fill="none" stroke="#444" stroke-width="1"/>
<text class="k" x="426.8" y="299.6" font-size="16" text-anchor="start" font-weight="bold" fill="#000">d</text>
<text class="k" x="448" y="365.0" font-size="13.5" text-anchor="middle" font-weight="normal" fill="#000" transform="rotate(-90 448 365.0)">Circular variance</text>
<text class="k" x="797.8" y="374.4" font-size="13.5" text-anchor="middle" font-weight="normal" fill="#000" transform="rotate(-90 797.8 374.4)">Wavelet power</text>
<text class="k" x="620.2" y="478.3" font-size="13.5" text-anchor="middle" font-weight="normal" fill="#000">Day</text>
<line x1="98.64" y1="6.5" x2="98.64" y2="433.5" stroke="#d2d2d2" stroke-width="2.2"/>
<line x1="204.5" y1="6.5" x2="204.5" y2="433.5" stroke="#d2d2d2" stroke-width="2.2"/>
<line x1="310.36" y1="6.5" x2="310.36" y2="433.5" stroke="#d2d2d2" stroke-width="2.2"/>
<line x1="513.04" y1="6.5" x2="513.04" y2="433.5" stroke="#d2d2d2" stroke-width="2.2"/>
<line x1="618.9" y1="6.5" x2="618.9" y2="433.5" stroke="#d2d2d2" stroke-width="2.2"/>
<line x1="724.76" y1="6.5" x2="724.76" y2="433.5" stroke="#d2d2d2" stroke-width="2.2"/>
<ellipse cx="98.643" cy="232.7" rx="50.9" ry="50.3" fill="#fff" stroke="#d6d6d6" stroke-width="2.6"/>
<circle cx="98.643" cy="235.0" r="7.1" fill="none" stroke="#8d8d8d" stroke-width="0.65"/>
<circle cx="98.643" cy="235.0" r="14.3" fill="none" stroke="#8d8d8d" stroke-width="0.65"/>
<circle cx="98.643" cy="235.0" r="21.5" fill="none" stroke="#8d8d8d" stroke-width="0.65"/>
<circle cx="98.643" cy="235.0" r="28.8" fill="none" stroke="#8d8d8d" stroke-width="0.65"/>
<circle cx="98.643" cy="235.0" r="35.7" fill="none" stroke="#8d8d8d" stroke-width="0.65"/>
<line x1="98.643" y1="199.0" x2="98.643" y2="271.0" stroke="#a0a0a0" stroke-width="0.7"/>
<text class="k" x="98.643" y="199.9" font-size="12.8" text-anchor="middle" font-weight="normal" fill="#000">0</text>
<text class="k" x="97.643" y="280.9" font-size="12.8" text-anchor="middle" font-weight="normal" fill="#000">180</text>
<circle cx="109.243" cy="268.9" r="1.25" fill="none" stroke="#666" stroke-width="0.6"/>
<path id="p0_0" d="M77.78,227.41 A22.2,22.2 0 0 1 92.52,213.66" fill="none"/>
<text font-size="6.3" fill="#7a7a7a"><textPath href="#p0_0" startOffset="50%" text-anchor="middle">Adults</textPath></text>
<path id="p0_1" d="M105.50,213.89 A22.2,22.2 0 0 1 119.76,228.14" fill="none"/>
<text font-size="6.3" fill="#7a7a7a"><textPath href="#p0_1" startOffset="50%" text-anchor="middle">Eggs</textPath></text>
<path id="p0_2" d="M117.56,249.78 A24.0,24.0 0 0 1 94.48,258.64" fill="none"/>
<text font-size="6.3" fill="#7a7a7a"><textPath href="#p0_2" startOffset="50%" text-anchor="middle">Larvae</textPath></text>
<path id="p0_3" d="M85.92,255.35 A24.0,24.0 0 0 1 74.88,231.66" fill="none"/>
<text font-size="6.3" fill="#7a7a7a"><textPath href="#p0_3" startOffset="50%" text-anchor="middle">Pupae</textPath></text>
<ellipse cx="204.501" cy="232.7" rx="50.9" ry="50.3" fill="#fff" stroke="#d6d6d6" stroke-width="2.6"/>
<circle cx="204.501" cy="235.0" r="7.1" fill="none" stroke="#8d8d8d" stroke-width="0.65"/>
<circle cx="204.501" cy="235.0" r="14.3" fill="none" stroke="#8d8d8d" stroke-width="0.65"/>
<circle cx="204.501" cy="235.0" r="21.5" fill="none" stroke="#8d8d8d" stroke-width="0.65"/>
<circle cx="204.501" cy="235.0" r="28.8" fill="none" stroke="#8d8d8d" stroke-width="0.65"/>
<circle cx="204.501" cy="235.0" r="35.7" fill="none" stroke="#8d8d8d" stroke-width="0.65"/>
<line x1="204.501" y1="199.0" x2="204.501" y2="271.0" stroke="#a0a0a0" stroke-width="0.7"/>
<text class="k" x="204.501" y="199.9" font-size="12.8" text-anchor="middle" font-weight="normal" fill="#000">0</text>
<text class="k" x="203.501" y="280.9" font-size="12.8" text-anchor="middle" font-weight="normal" fill="#000">180</text>
<circle cx="215.101" cy="268.9" r="1.25" fill="none" stroke="#666" stroke-width="0.6"/>
<path id="p1_0" d="M183.64,227.41 A22.2,22.2 0 0 1 198.38,213.66" fill="none"/>
<text font-size="6.3" fill="#7a7a7a"><textPath href="#p1_0" startOffset="50%" text-anchor="middle">Adults</textPath></text>
<path id="p1_1" d="M211.36,213.89 A22.2,22.2 0 0 1 225.61,228.14" fill="none"/>
<text font-size="6.3" fill="#7a7a7a"><textPath href="#p1_1" startOffset="50%" text-anchor="middle">Eggs</textPath></text>
<path id="p1_2" d="M223.41,249.78 A24.0,24.0 0 0 1 200.33,258.64" fill="none"/>
<text font-size="6.3" fill="#7a7a7a"><textPath href="#p1_2" startOffset="50%" text-anchor="middle">Larvae</textPath></text>
<path id="p1_3" d="M191.78,255.35 A24.0,24.0 0 0 1 180.73,231.66" fill="none"/>
<text font-size="6.3" fill="#7a7a7a"><textPath href="#p1_3" startOffset="50%" text-anchor="middle">Pupae</textPath></text>
<ellipse cx="310.35900000000004" cy="232.7" rx="50.9" ry="50.3" fill="#fff" stroke="#d6d6d6" stroke-width="2.6"/>
<circle cx="310.35900000000004" cy="235.0" r="7.1" fill="none" stroke="#8d8d8d" stroke-width="0.65"/>
<circle cx="310.35900000000004" cy="235.0" r="14.3" fill="none" stroke="#8d8d8d" stroke-width="0.65"/>
<circle cx="310.35900000000004" cy="235.0" r="21.5" fill="none" stroke="#8d8d8d" stroke-width="0.65"/>
<circle cx="310.35900000000004" cy="235.0" r="28.8" fill="none" stroke="#8d8d8d" stroke-width="0.65"/>
<circle cx="310.35900000000004" cy="235.0" r="35.7" fill="none" stroke="#8d8d8d" stroke-width="0.65"/>
<line x1="310.35900000000004" y1="199.0" x2="310.35900000000004" y2="271.0" stroke="#a0a0a0" stroke-width="0.7"/>
<text class="k" x="310.35900000000004" y="199.9" font-size="12.8" text-anchor="middle" font-weight="normal" fill="#000">0</text>
<text class="k" x="309.35900000000004" y="280.9" font-size="12.8" text-anchor="middle" font-weight="normal" fill="#000">180</text>
<circle cx="320.95900000000006" cy="268.9" r="1.25" fill="none" stroke="#666" stroke-width="0.6"/>
<path id="p2_0" d="M289.50,227.41 A22.2,22.2 0 0 1 304.24,213.66" fill="none"/>
<text font-size="6.3" fill="#7a7a7a"><textPath href="#p2_0" startOffset="50%" text-anchor="middle">Adults</textPath></text>
<path id="p2_1" d="M317.22,213.89 A22.2,22.2 0 0 1 331.47,228.14" fill="none"/>
<text font-size="6.3" fill="#7a7a7a"><textPath href="#p2_1" startOffset="50%" text-anchor="middle">Eggs</textPath></text>
<path id="p2_2" d="M329.27,249.78 A24.0,24.0 0 0 1 306.19,258.64" fill="none"/>
<text font-size="6.3" fill="#7a7a7a"><textPath href="#p2_2" startOffset="50%" text-anchor="middle">Larvae</textPath></text>
<path id="p2_3" d="M297.64,255.35 A24.0,24.0 0 0 1 286.59,231.66" fill="none"/>
<text font-size="6.3" fill="#7a7a7a"><textPath href="#p2_3" startOffset="50%" text-anchor="middle">Pupae</textPath></text>
<ellipse cx="513.043" cy="232.7" rx="50.9" ry="50.3" fill="#fff" stroke="#d6d6d6" stroke-width="2.6"/>
<circle cx="513.043" cy="235.0" r="7.1" fill="none" stroke="#8d8d8d" stroke-width="0.65"/>
<circle cx="513.043" cy="235.0" r="14.3" fill="none" stroke="#8d8d8d" stroke-width="0.65"/>
<circle cx="513.043" cy="235.0" r="21.5" fill="none" stroke="#8d8d8d" stroke-width="0.65"/>
<circle cx="513.043" cy="235.0" r="28.8" fill="none" stroke="#8d8d8d" stroke-width="0.65"/>
<circle cx="513.043" cy="235.0" r="35.7" fill="none" stroke="#8d8d8d" stroke-width="0.65"/>
<line x1="513.043" y1="199.0" x2="513.043" y2="271.0" stroke="#a0a0a0" stroke-width="0.7"/>
<text class="k" x="513.043" y="199.9" font-size="12.8" text-anchor="middle" font-weight="normal" fill="#000">0</text>
<text class="k" x="512.043" y="280.9" font-size="12.8" text-anchor="middle" font-weight="normal" fill="#000">180</text>
<circle cx="523.643" cy="268.9" r="1.25" fill="none" stroke="#666" stroke-width="0.6"/>
<path id="p3_0" d="M492.18,227.41 A22.2,22.2 0 0 1 506.92,213.66" fill="none"/>
<text font-size="6.3" fill="#7a7a7a"><textPath href="#p3_0" startOffset="50%" text-anchor="middle">Adults</textPath></text>
<path id="p3_1" d="M519.90,213.89 A22.2,22.2 0 0 1 534.16,228.14" fill="none"/>
<text font-size="6.3" fill="#7a7a7a"><textPath href="#p3_1" startOffset="50%" text-anchor="middle">Eggs</textPath></text>
<path id="p3_2" d="M531.96,249.78 A24.0,24.0 0 0 1 508.88,258.64" fill="none"/>
<text font-size="6.3" fill="#7a7a7a"><textPath href="#p3_2" startOffset="50%" text-anchor="middle">Larvae</textPath></text>
<path id="p3_3" d="M500.32,255.35 A24.0,24.0 0 0 1 489.28,231.66" fill="none"/>
<text font-size="6.3" fill="#7a7a7a"><textPath href="#p3_3" startOffset="50%" text-anchor="middle">Pupae</textPath></text>
<ellipse cx="618.901" cy="232.7" rx="50.9" ry="50.3" fill="#fff" stroke="#d6d6d6" stroke-width="2.6"/>
<circle cx="618.901" cy="235.0" r="7.1" fill="none" stroke="#8d8d8d" stroke-width="0.65"/>
<circle cx="618.901" cy="235.0" r="14.3" fill="none" stroke="#8d8d8d" stroke-width="0.65"/>
<circle cx="618.901" cy="235.0" r="21.5" fill="none" stroke="#8d8d8d" stroke-width="0.65"/>
<circle cx="618.901" cy="235.0" r="28.8" fill="none" stroke="#8d8d8d" stroke-width="0.65"/>
<circle cx="618.901" cy="235.0" r="35.7" fill="none" stroke="#8d8d8d" stroke-width="0.65"/>
<line x1="618.901" y1="199.0" x2="618.901" y2="271.0" stroke="#a0a0a0" stroke-width="0.7"/>
<text class="k" x="618.901" y="199.9" font-size="12.8" text-anchor="middle" font-weight="normal" fill="#000">0</text>
<text class="k" x="617.901" y="280.9" font-size="12.8" text-anchor="middle" font-weight="normal" fill="#000">180</text>
<circle cx="629.501" cy="268.9" r="1.25" fill="none" stroke="#666" stroke-width="0.6"/>
<path id="p4_0" d="M598.04,227.41 A22.2,22.2 0 0 1 612.78,213.66" fill="none"/>
<text font-size="6.3" fill="#7a7a7a"><textPath href="#p4_0" startOffset="50%" text-anchor="middle">Adults</textPath></text>
<path id="p4_1" d="M625.76,213.89 A22.2,22.2 0 0 1 640.01,228.14" fill="none"/>
<text font-size="6.3" fill="#7a7a7a"><textPath href="#p4_1" startOffset="50%" text-anchor="middle">Eggs</textPath></text>
<path id="p4_2" d="M637.81,249.78 A24.0,24.0 0 0 1 614.73,258.64" fill="none"/>
<text font-size="6.3" fill="#7a7a7a"><textPath href="#p4_2" startOffset="50%" text-anchor="middle">Larvae</textPath></text>
<path id="p4_3" d="M606.18,255.35 A24.0,24.0 0 0 1 595.13,231.66" fill="none"/>
<text font-size="6.3" fill="#7a7a7a"><textPath href="#p4_3" startOffset="50%" text-anchor="middle">Pupae</textPath></text>
<ellipse cx="724.759" cy="232.7" rx="50.9" ry="50.3" fill="#fff" stroke="#d6d6d6" stroke-width="2.6"/>
<circle cx="724.759" cy="235.0" r="7.1" fill="none" stroke="#8d8d8d" stroke-width="0.65"/>
<circle cx="724.759" cy="235.0" r="14.3" fill="none" stroke="#8d8d8d" stroke-width="0.65"/>
<circle cx="724.759" cy="235.0" r="21.5" fill="none" stroke="#8d8d8d" stroke-width="0.65"/>
<circle cx="724.759" cy="235.0" r="28.8" fill="none" stroke="#8d8d8d" stroke-width="0.65"/>
<circle cx="724.759" cy="235.0" r="35.7" fill="none" stroke="#8d8d8d" stroke-width="0.65"/>
<line x1="724.759" y1="199.0" x2="724.759" y2="271.0" stroke="#a0a0a0" stroke-width="0.7"/>
<text class="k" x="724.759" y="199.9" font-size="12.8" text-anchor="middle" font-weight="normal" fill="#000">0</text>
<text class="k" x="723.759" y="280.9" font-size="12.8" text-anchor="middle" font-weight="normal" fill="#000">180</text>
<circle cx="735.359" cy="268.9" r="1.25" fill="none" stroke="#666" stroke-width="0.6"/>
<path id="p5_0" d="M703.90,227.41 A22.2,22.2 0 0 1 718.64,213.66" fill="none"/>
<text font-size="6.3" fill="#7a7a7a"><textPath href="#p5_0" startOffset="50%" text-anchor="middle">Adults</textPath></text>
<path id="p5_1" d="M731.62,213.89 A22.2,22.2 0 0 1 745.87,228.14" fill="none"/>
<text font-size="6.3" fill="#7a7a7a"><textPath href="#p5_1" startOffset="50%" text-anchor="middle">Eggs</textPath></text>
<path id="p5_2" d="M743.67,249.78 A24.0,24.0 0 0 1 720.59,258.64" fill="none"/>
<text font-size="6.3" fill="#7a7a7a"><textPath href="#p5_2" startOffset="50%" text-anchor="middle">Larvae</textPath></text>
<path id="p5_3" d="M712.04,255.35 A24.0,24.0 0 0 1 700.99,231.66" fill="none"/>
<text font-size="6.3" fill="#7a7a7a"><textPath href="#p5_3" startOffset="50%" text-anchor="middle">Pupae</textPath></text>
<line x1="98.643" y1="235.0" x2="98.643" y2="205.4" stroke="#111" stroke-width="1.35" stroke-dasharray="4.6 3.1"/>
<line x1="98.643" y1="235.0" x2="128.243" y2="234.6" stroke="#111" stroke-width="1.35" stroke-dasharray="4.6 3.1"/>
<line x1="98.643" y1="235.0" x2="69.043" y2="232.5" stroke="#111" stroke-width="1.35" stroke-dasharray="4.6 3.1"/>
<line x1="98.643" y1="235.0" x2="79.40" y2="257.40" stroke="#111" stroke-width="1.35" stroke-dasharray="4.6 3.1"/>
<line x1="94.643" y1="235.0" x2="102.643" y2="235.0" stroke="#111" stroke-width="1.3"/>
<line x1="98.643" y1="231.5" x2="98.643" y2="235.0" stroke="#111" stroke-width="1.3"/>
<line x1="204.501" y1="235.0" x2="204.501" y2="205.4" stroke="#111" stroke-width="1.35" stroke-dasharray="4.6 3.1"/>
<line x1="204.501" y1="235.0" x2="234.101" y2="234.6" stroke="#111" stroke-width="1.35" stroke-dasharray="4.6 3.1"/>
<line x1="204.501" y1="235.0" x2="174.901" y2="232.5" stroke="#111" stroke-width="1.35" stroke-dasharray="4.6 3.1"/>
<line x1="204.501" y1="235.0" x2="185.60" y2="256.80" stroke="#111" stroke-width="1.35" stroke-dasharray="4.6 3.1"/>
<line x1="200.501" y1="235.0" x2="208.501" y2="235.0" stroke="#111" stroke-width="1.3"/>
<line x1="204.501" y1="231.5" x2="204.501" y2="235.0" stroke="#111" stroke-width="1.3"/>
<line x1="310.35900000000004" y1="235.0" x2="310.35900000000004" y2="205.4" stroke="#111" stroke-width="1.35" stroke-dasharray="4.6 3.1"/>
<line x1="310.35900000000004" y1="235.0" x2="339.95900000000006" y2="234.6" stroke="#111" stroke-width="1.35" stroke-dasharray="4.6 3.1"/>
<line x1="310.35900000000004" y1="235.0" x2="280.759" y2="232.5" stroke="#111" stroke-width="1.35" stroke-dasharray="4.6 3.1"/>
<line x1="310.35900000000004" y1="235.0" x2="291.30" y2="258.60" stroke="#111" stroke-width="1.35" stroke-dasharray="4.6 3.1"/>
<line x1="306.35900000000004" y1="235.0" x2="314.35900000000004" y2="235.0" stroke="#111" stroke-width="1.3"/>
<line x1="310.35900000000004" y1="231.5" x2="310.35900000000004" y2="235.0" stroke="#111" stroke-width="1.3"/>
<line x1="513.043" y1="235.0" x2="513.043" y2="205.4" stroke="#111" stroke-width="1.35" stroke-dasharray="4.6 3.1"/>
<line x1="513.043" y1="235.0" x2="542.643" y2="234.6" stroke="#111" stroke-width="1.35" stroke-dasharray="4.6 3.1"/>
<line x1="513.043" y1="235.0" x2="483.443" y2="232.5" stroke="#111" stroke-width="1.35" stroke-dasharray="4.6 3.1"/>
<line x1="513.043" y1="235.0" x2="494.20" y2="257.90" stroke="#111" stroke-width="1.35" stroke-dasharray="4.6 3.1"/>
<line x1="509.043" y1="235.0" x2="517.043" y2="235.0" stroke="#111" stroke-width="1.3"/>
<line x1="513.043" y1="231.5" x2="513.043" y2="235.0" stroke="#111" stroke-width="1.3"/>
<line x1="618.901" y1="235.0" x2="618.901" y2="205.4" stroke="#111" stroke-width="1.35" stroke-dasharray="4.6 3.1"/>
<line x1="618.901" y1="235.0" x2="648.501" y2="234.6" stroke="#111" stroke-width="1.35" stroke-dasharray="4.6 3.1"/>
<line x1="618.901" y1="235.0" x2="589.3009999999999" y2="232.5" stroke="#111" stroke-width="1.35" stroke-dasharray="4.6 3.1"/>
<line x1="618.901" y1="235.0" x2="600.40" y2="257.30" stroke="#111" stroke-width="1.35" stroke-dasharray="4.6 3.1"/>
<line x1="614.901" y1="235.0" x2="622.901" y2="235.0" stroke="#111" stroke-width="1.3"/>
<line x1="618.901" y1="231.5" x2="618.901" y2="235.0" stroke="#111" stroke-width="1.3"/>
<line x1="724.759" y1="235.0" x2="724.759" y2="205.4" stroke="#111" stroke-width="1.35" stroke-dasharray="4.6 3.1"/>
<line x1="724.759" y1="235.0" x2="754.359" y2="234.6" stroke="#111" stroke-width="1.35" stroke-dasharray="4.6 3.1"/>
<line x1="724.759" y1="235.0" x2="695.159" y2="232.5" stroke="#111" stroke-width="1.35" stroke-dasharray="4.6 3.1"/>
<line x1="724.759" y1="235.0" x2="706.30" y2="257.60" stroke="#111" stroke-width="1.35" stroke-dasharray="4.6 3.1"/>
<line x1="720.759" y1="235.0" x2="728.759" y2="235.0" stroke="#111" stroke-width="1.3"/>
<line x1="724.759" y1="231.5" x2="724.759" y2="235.0" stroke="#111" stroke-width="1.3"/>
<path d="M98.20,233.90 C97.23,233.97 96.28,234.22 94.90,234.70 C93.52,235.18 91.57,235.90 89.90,236.80 C88.23,237.70 86.55,238.85 84.90,240.10 C83.25,241.35 81.45,242.78 80.00,244.30 C78.55,245.82 77.10,247.55 76.20,249.20 C75.30,250.85 74.67,252.53 74.60,254.20 C74.53,255.87 74.90,257.75 75.80,259.20 C76.70,260.65 78.33,262.07 80.00,262.90 C81.67,263.73 83.87,264.13 85.80,264.20 C87.73,264.27 89.67,263.93 91.60,263.30 C93.53,262.67 95.60,261.63 97.40,260.40 C99.20,259.17 101.08,257.62 102.40,255.90 C103.72,254.18 104.68,252.03 105.30,250.10 C105.92,248.17 106.10,246.03 106.10,244.30 C106.10,242.57 105.78,241.02 105.30,239.70 C104.82,238.38 103.97,237.30 103.20,236.40 C102.43,235.50 101.53,234.72 100.70,234.30 C99.87,233.88 99.17,233.83 98.20,233.90 Z" fill="none" stroke="#2e5b88" stroke-width="1.95" stroke-linejoin="round" stroke-linecap="round"/>
<path d="M204.20,234.80 C203.90,234.38 202.77,233.18 202.40,232.30 C202.03,231.42 201.90,230.42 202.00,229.50 C202.10,228.58 202.48,227.35 203.00,226.80 C203.52,226.25 204.05,226.33 205.10,226.20 C206.15,226.07 207.77,226.10 209.30,226.00 C210.83,225.90 212.65,225.55 214.30,225.60 C215.95,225.65 217.55,225.83 219.20,226.30 C220.85,226.77 222.53,227.50 224.20,228.40 C225.87,229.30 227.75,230.32 229.20,231.70 C230.65,233.08 232.05,234.97 232.90,236.70 C233.75,238.43 234.15,240.45 234.30,242.10 C234.45,243.75 234.37,245.22 233.80,246.60 C233.23,247.98 232.08,249.43 230.90,250.40 C229.72,251.37 228.23,251.92 226.70,252.40 C225.17,252.88 223.37,253.37 221.70,253.30 C220.03,253.23 218.35,252.70 216.70,252.00 C215.05,251.30 213.32,250.20 211.80,249.10 C210.28,248.00 208.85,246.72 207.60,245.40 C206.35,244.08 205.13,242.52 204.30,241.20 C203.47,239.88 202.80,238.60 202.60,237.50 C202.40,236.40 202.82,235.78 203.10,234.60 C203.38,233.42 203.68,231.58 204.30,230.40 C204.92,229.22 205.97,228.18 206.80,227.50 C207.63,226.82 208.05,226.62 209.30,226.30 C210.55,225.98 213.47,225.72 214.30,225.60" fill="none" stroke="#2e5b88" stroke-width="1.95" stroke-linejoin="round" stroke-linecap="round"/>
<path d="M312.10,233.90 C312.05,233.22 311.85,231.53 311.80,229.80 C311.75,228.07 311.80,225.63 311.80,223.50 C311.80,221.37 311.33,217.63 311.80,217.00 C312.27,216.37 313.75,218.33 314.60,219.70 C315.45,221.07 316.60,223.52 316.90,225.20 C317.20,226.88 316.72,228.28 316.40,229.80 C316.08,231.32 315.38,232.78 315.00,234.30 C314.62,235.82 314.63,237.37 314.10,238.90 C313.57,240.43 312.78,242.05 311.80,243.50 C310.82,244.95 309.57,246.47 308.20,247.60 C306.83,248.73 305.27,249.70 303.60,250.30 C301.93,250.90 300.02,251.27 298.20,251.20 C296.38,251.13 294.38,250.73 292.70,249.90 C291.02,249.07 289.32,247.73 288.10,246.20 C286.88,244.67 285.93,242.53 285.40,240.70 C284.87,238.87 284.75,237.02 284.90,235.20 C285.05,233.38 285.47,231.32 286.30,229.80 C287.13,228.28 288.38,227.10 289.90,226.10 C291.42,225.10 293.57,224.18 295.40,223.80 C297.23,223.42 299.07,223.57 300.90,223.80 C302.73,224.03 304.88,224.58 306.40,225.20 C307.92,225.82 309.10,226.73 310.00,227.50 C310.90,228.27 311.45,228.73 311.80,229.80 C312.15,230.87 312.05,233.22 312.10,233.90" fill="none" stroke="#2e5b88" stroke-width="1.95" stroke-linejoin="round" stroke-linecap="round"/>
<path d="M513.30,229.80 C513.30,230.25 513.45,231.70 513.30,232.50 C513.15,233.30 513.38,234.40 512.40,234.60 C511.42,234.80 509.15,233.82 507.40,233.70 C505.65,233.58 503.73,233.57 501.90,233.90 C500.07,234.23 498.22,234.87 496.40,235.70 C494.58,236.53 492.60,237.60 491.00,238.90 C489.40,240.20 487.80,241.90 486.80,243.50 C485.80,245.10 485.22,246.92 485.00,248.50 C484.78,250.08 484.88,251.63 485.50,253.00 C486.12,254.37 487.33,255.70 488.70,256.70 C490.07,257.70 491.95,258.47 493.70,259.00 C495.45,259.53 497.37,259.90 499.20,259.90 C501.03,259.90 502.88,259.62 504.70,259.00 C506.52,258.38 508.43,257.50 510.10,256.20 C511.77,254.90 513.55,252.95 514.70,251.20 C515.85,249.45 516.62,247.45 517.00,245.70 C517.38,243.95 517.23,242.07 517.00,240.70 C516.77,239.33 516.13,238.37 515.60,237.50 C515.07,236.63 514.33,235.98 513.80,235.50 C513.27,235.02 512.63,234.75 512.40,234.60" fill="none" stroke="#2e5b88" stroke-width="1.95" stroke-linejoin="round" stroke-linecap="round"/>
<circle cx="619.40" cy="234.5" r="14.0" fill="none" stroke="#2e5b88" stroke-width="1.95"/>
<circle cx="725.36" cy="234.7" r="14.0" fill="none" stroke="#2e5b88" stroke-width="1.95"/>
</svg></body></html>
